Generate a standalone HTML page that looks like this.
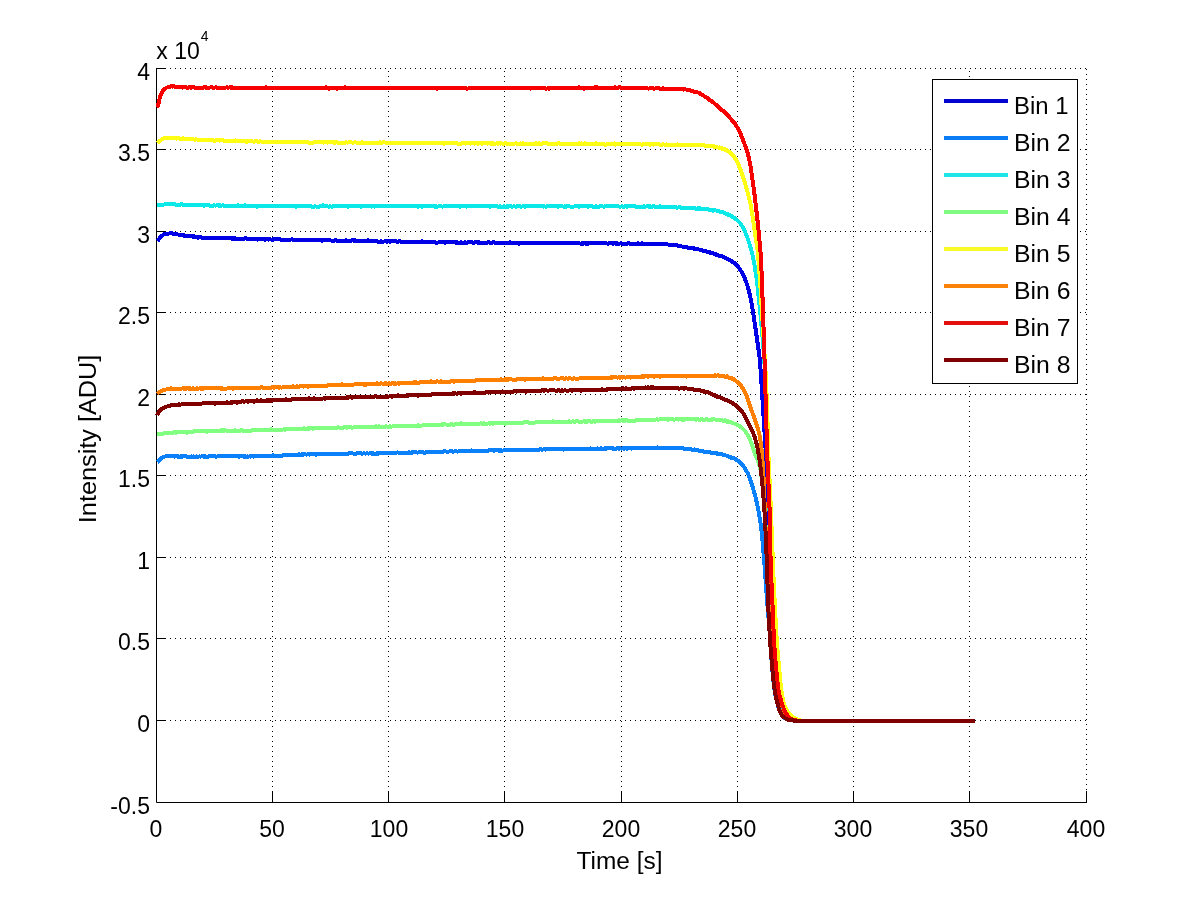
<!DOCTYPE html>
<html lang="en"><head><meta charset="utf-8"><title>Intensity vs Time</title>
<style>html,body{margin:0;padding:0;background:#fff}svg{display:block}text{font-family:"Liberation Sans",sans-serif;fill:#000}</style></head><body>
<svg width="1200" height="901" viewBox="0 0 1200 901">
<rect width="1200" height="901" fill="#fff"/>
<path d="M272.5 802V68M388.5 802V68M504.5 802V68M621.5 802V68M737.5 802V68M853.5 802V68M969.5 802V68" stroke="#000" stroke-width="1" stroke-dasharray="1 4" fill="none"/>
<path d="M1086.5 69V802" stroke="#000" stroke-width="1" stroke-dasharray="1 4" fill="none"/>
<path d="M160 68.5H1087M160 149.5H1087M160 231.5H1087M160 312.5H1087M160 394.5H1087M160 475.5H1087M160 557.5H1087M160 638.5H1087M160 720.5H1087" stroke="#000" stroke-width="1" stroke-dasharray="1 4" fill="none"/>
<path d="M156.5 68V802.5H1087" stroke="#000" stroke-width="1" fill="none"/>
<path d="M272.5 802v-11M388.5 802v-11M504.5 802v-11M621.5 802v-11M737.5 802v-11M853.5 802v-11M969.5 802v-11M1086.5 802v-11M157 68.5h9M157 149.5h9M157 231.5h9M157 312.5h9M157 394.5h9M157 475.5h9M157 557.5h9M157 638.5h9M157 720.5h9" stroke="#000" stroke-width="1" fill="none"/>
<path d="M157.2,241.2 157.9,240.5 158.4,239.8 158.5,239.7 159.1,238.9 159.7,238.0 160.3,237.3 161.0,236.7 161.0,236.5 161.7,235.9 162.5,235.3 163.4,234.7 164.3,234.2 165.2,233.8 165.5,233.8 166.2,233.8 167.1,233.6 168.1,233.6 169.2,233.5 170.2,233.3 171.2,233.2 172.2,233.6 172.2,233.4 173.2,233.9 174.2,234.0 175.2,234.0 176.2,233.6 177.1,234.2 178.1,234.6 179.1,234.7 180.1,234.5 181.1,234.9 182.1,235.0 183.0,235.2 183.1,235.6 184.0,235.4 185.0,235.6 186.0,235.9 187.0,235.8 188.0,236.0 189.0,236.2 190.0,236.2 191.0,236.0 192.0,236.4 193.0,236.8 194.0,236.3 195.0,237.0 196.0,236.8 197.0,236.8 198.0,237.6 199.0,237.5 200.0,237.1 201.0,237.4 202.0,237.6 203.0,237.6 204.0,237.9 204.9,237.9 205.5,238.0 205.9,238.1 206.9,237.7 207.9,237.9 208.9,237.9 209.9,238.0 210.9,237.7 211.9,237.9 212.9,238.0 213.9,238.2 214.9,238.3 215.9,237.7 216.9,237.9 217.9,238.2 218.9,237.5 219.9,237.9 220.9,237.9 221.9,238.1 222.9,238.0 223.9,237.9 224.9,237.9 225.9,238.1 226.9,238.5 227.9,238.1 228.9,238.2 229.9,238.5 230.9,238.4 231.9,238.6 232.9,238.4 233.9,238.6 234.9,238.4 235.9,238.8 236.9,238.8 237.9,238.6 238.8,238.7 238.9,238.5 239.9,238.8 240.9,238.6 241.9,238.8 242.9,238.5 243.9,238.8 244.9,238.3 245.9,238.4 246.9,238.8 247.9,238.6 248.9,238.8 249.9,239.4 250.9,238.7 251.9,238.7 252.9,239.1 253.9,239.1 254.9,239.0 255.9,239.1 256.9,239.5 257.9,239.5 258.9,239.0 259.9,239.2 260.9,239.4 261.9,238.9 262.9,239.4 263.9,239.1 264.9,239.6 265.9,239.4 266.9,239.4 267.9,239.4 268.9,239.6 269.9,239.2 270.9,239.5 271.9,239.7 272.9,239.0 273.9,239.6 274.9,239.0 275.9,239.5 276.9,239.1 277.9,239.4 278.9,239.4 279.9,239.1 280.9,239.8 281.9,240.0 282.9,239.7 283.9,239.6 284.9,239.8 285.9,239.6 286.9,240.0 287.9,239.5 288.9,239.6 289.9,239.5 290.9,239.5 291.9,239.4 292.9,240.0 293.9,239.6 294.9,239.9 295.9,239.7 296.9,239.8 297.9,239.9 298.9,239.7 299.9,240.0 300.0,239.8 300.9,240.0 301.9,239.8 302.9,240.0 303.9,240.5 304.9,239.9 305.9,239.8 306.9,240.1 307.9,240.3 308.9,239.6 309.9,239.9 310.9,239.7 311.9,239.5 312.9,240.1 313.9,239.9 314.9,239.9 315.9,239.8 316.9,240.1 317.9,240.0 318.9,240.2 319.9,240.0 320.9,240.0 321.9,240.6 322.9,240.3 323.9,240.5 324.9,240.4 325.9,240.4 326.9,240.4 327.9,240.5 328.9,240.4 329.9,240.3 330.9,240.5 331.9,240.6 332.9,240.5 333.9,240.6 334.9,240.3 335.9,240.1 336.9,240.7 337.9,240.8 338.9,240.6 339.9,240.8 340.9,240.8 341.9,240.8 342.9,240.9 343.9,240.5 344.9,241.0 345.9,240.3 346.9,240.7 347.9,240.6 348.9,240.7 349.9,241.0 350.9,241.0 351.9,240.4 352.9,240.3 353.9,240.8 354.9,240.4 355.9,240.7 356.9,241.0 357.9,240.6 358.9,240.6 359.9,241.1 360.9,241.0 361.9,240.9 362.9,241.0 363.9,240.8 364.9,240.6 365.9,240.9 366.9,240.6 367.9,240.4 368.9,240.9 369.9,240.8 370.9,241.0 371.9,240.8 372.9,241.0 373.9,241.0 374.9,241.1 375.9,241.3 376.9,241.2 377.9,241.6 378.9,241.6 379.9,242.0 380.9,241.2 381.9,241.7 382.9,241.5 383.9,241.5 384.9,241.2 385.9,241.4 386.9,241.6 387.9,241.4 388.9,241.4 389.0,241.2 389.9,241.6 390.9,241.3 391.9,240.7 392.9,241.2 393.9,240.9 394.9,240.7 395.9,241.4 396.9,241.8 397.9,241.6 398.9,241.3 399.9,241.3 400.9,241.9 401.9,241.7 402.9,241.6 403.9,241.6 404.9,241.7 405.9,241.9 406.9,241.9 407.9,241.7 408.9,241.5 409.9,242.0 410.9,241.6 411.9,242.0 412.9,241.5 413.9,241.7 414.9,241.8 415.9,241.5 416.9,242.3 417.9,242.2 418.9,241.7 419.9,242.0 420.9,241.8 421.9,241.2 422.9,241.8 423.9,241.7 424.9,241.8 425.9,241.5 426.9,241.7 427.9,241.8 428.9,242.1 429.9,242.1 430.9,242.1 431.9,242.5 432.9,242.0 433.9,242.0 434.9,241.8 435.9,242.7 436.9,242.5 437.9,242.5 438.9,242.4 439.9,242.3 440.9,242.4 441.9,242.3 442.9,242.2 443.9,242.3 444.9,242.7 445.9,242.4 446.9,242.3 447.9,242.2 448.9,242.0 449.9,242.5 450.9,242.4 451.9,242.3 452.9,242.2 453.9,242.1 454.9,242.3 455.9,242.6 456.9,242.4 457.9,242.6 458.9,242.6 459.9,242.7 460.9,242.4 461.9,242.7 462.9,242.5 463.9,242.9 464.9,242.4 465.9,242.6 466.9,242.8 467.9,242.4 468.9,242.2 469.9,242.4 470.9,242.4 471.9,242.2 472.9,242.5 473.9,243.0 474.9,242.4 475.9,242.4 476.9,242.3 477.9,242.7 478.9,242.3 479.0,242.4 479.9,243.0 480.9,242.5 481.9,242.9 482.9,243.2 483.9,242.8 484.9,242.8 485.9,243.1 486.9,242.6 487.9,242.4 488.9,242.2 489.9,242.6 490.9,242.9 491.9,242.7 492.9,242.4 493.9,242.4 494.9,242.6 495.9,242.9 496.9,242.8 497.9,242.9 498.9,242.9 499.9,242.8 500.9,242.9 501.9,243.0 502.9,242.9 503.9,243.0 504.9,243.3 505.9,243.0 506.9,242.9 507.9,242.5 508.9,243.0 509.9,242.4 510.9,242.6 511.9,243.1 512.9,243.1 513.9,242.8 514.9,242.5 515.9,242.8 516.9,242.8 517.9,243.3 518.9,243.7 519.9,243.2 520.9,243.0 521.9,243.0 522.9,243.2 523.9,243.2 524.9,242.9 525.9,243.2 526.9,242.7 527.9,243.3 528.9,243.2 529.9,243.2 530.9,242.8 531.9,243.1 532.9,242.9 533.9,242.8 534.9,242.8 535.9,242.7 536.9,242.6 537.9,243.2 538.9,242.9 539.9,243.0 540.9,243.2 541.9,242.6 542.9,242.8 543.9,243.2 544.9,243.3 545.9,243.1 546.9,243.4 547.9,243.2 548.9,242.9 549.9,242.9 550.9,243.2 551.9,243.2 552.9,242.5 553.9,243.3 554.9,243.0 555.9,243.2 556.9,242.8 557.9,242.9 558.9,242.7 559.9,243.5 560.9,242.9 561.9,243.3 562.9,242.7 563.9,243.1 564.9,242.6 565.9,243.0 566.9,243.3 567.9,242.7 568.9,243.4 569.9,243.2 570.9,242.9 571.9,243.1 572.9,243.0 573.9,243.1 574.9,243.1 575.9,243.1 576.9,243.3 577.9,243.1 578.9,243.2 579.9,243.5 580.9,243.7 581.9,243.3 582.9,243.6 583.9,243.4 584.9,243.3 585.9,243.7 586.9,243.4 587.9,243.8 588.9,243.2 589.9,243.5 590.9,243.3 591.9,243.1 592.9,243.4 593.9,243.3 594.9,243.5 595.9,243.3 596.9,243.0 597.9,243.2 598.9,243.2 599.9,243.5 600.9,243.1 601.9,243.3 602.9,242.9 603.9,243.5 604.9,243.1 605.9,243.0 606.9,243.5 607.9,243.8 608.9,243.1 609.9,243.3 610.9,243.3 611.9,243.3 612.9,243.6 613.9,243.4 614.9,243.4 615.9,243.6 616.9,243.4 617.9,243.8 618.9,243.5 619.9,243.5 620.9,243.3 621.9,244.0 622.0,243.5 622.9,243.7 623.9,243.6 624.9,243.7 625.9,243.6 626.9,244.0 627.9,243.4 628.9,243.4 629.9,243.6 630.9,243.5 631.9,244.0 632.9,244.1 633.9,243.6 634.9,243.5 635.9,243.8 636.9,244.2 637.9,243.1 638.9,243.8 639.9,243.5 640.9,244.0 641.9,243.4 642.9,243.7 643.9,243.5 644.9,243.5 645.9,244.1 646.9,244.1 647.9,243.8 648.9,243.8 649.9,243.6 650.0,243.9 650.9,244.0 651.9,243.9 652.9,243.9 653.9,243.7 654.9,243.9 655.9,243.9 656.9,244.2 657.9,244.3 658.9,243.9 659.9,243.7 660.9,244.0 661.9,243.9 662.9,243.9 663.9,244.1 664.9,243.9 665.9,244.5 666.9,244.4 667.9,244.5 668.9,244.6 669.9,244.5 670.9,244.6 671.9,244.8 672.2,244.9 672.9,245.2 673.9,245.2 674.8,245.0 675.8,245.5 676.8,245.2 677.8,245.6 678.8,245.9 679.8,245.6 680.8,246.2 681.8,246.5 682.8,246.6 683.7,246.7 684.7,246.9 685.7,246.9 686.7,247.4 687.7,247.5 688.7,247.8 689.6,247.6 690.6,248.1 691.6,248.3 692.6,248.4 693.6,248.5 694.4,248.9 694.5,248.3 695.5,248.9 696.5,249.1 697.5,249.4 698.5,249.5 699.4,249.5 700.4,249.9 701.4,250.3 702.4,250.5 703.3,250.6 704.3,250.5 705.3,251.2 706.3,251.5 707.2,251.8 708.2,251.9 709.2,251.9 710.1,252.7 711.1,252.7 712.1,252.6 713.0,253.5 714.0,253.5 714.9,253.8 715.9,254.2 716.6,254.9 716.8,254.6 717.8,255.1 718.7,255.8 719.7,256.0 720.6,256.0 721.6,256.3 722.6,256.4 723.5,256.9 724.4,257.5 725.4,257.9 726.3,258.2 727.2,258.9 728.1,259.0 728.9,259.6 729.8,260.1 730.0,260.2 730.6,260.6 731.4,261.1 732.2,261.5 733.1,262.3 733.9,262.6 734.7,263.0 735.4,264.1 737.6,266.2 739.4,268.5 741.0,271.0 743.0,274.5 744.7,278.2 746.5,282.9 748.3,288.6 749.8,294.4 751.2,301.3 754.0,318.1 758.3,347.8 759.6,357.7 760.5,368.6 762.7,402.6 765.0,440.5 766.3,459.4 767.3,480.4 768.5,514.4 769.5,554.4 770.3,592.4 771.0,613.4 771.9,633.3 772.7,646.3 774.7,668.2 775.9,682.2 776.6,689.1 777.6,695.1 778.8,701.0 780.0,705.8 781.3,709.8 782.5,712.6 784.0,715.0 785.3,716.4 786.9,717.8 788.6,719.0 790.4,719.6 793.3,720.3 796.4,720.6 837.1,720.6 878.0,720.6 918.0,720.6 958.2,720.6 975.0,720.6" stroke="#0000e6" stroke-width="4" fill="none" stroke-linejoin="round" stroke-linecap="butt" shape-rendering="crispEdges"/>
<path d="M157.2,462.0 158.0,461.4 158.4,461.0 158.7,460.6 159.5,459.9 160.2,459.1 160.9,458.5 161.7,457.9 162.2,457.6 162.5,457.5 163.4,457.2 164.3,456.7 165.3,456.5 166.3,456.2 167.3,456.1 167.7,456.1 168.3,456.0 169.3,456.1 170.3,456.1 171.3,456.5 172.3,456.4 173.3,456.1 174.3,456.6 175.3,456.3 176.3,456.4 177.3,456.6 178.3,456.3 179.3,456.9 180.3,456.4 181.3,456.1 182.3,456.7 183.3,456.2 184.3,456.2 185.3,455.6 186.3,456.5 187.3,456.6 188.3,456.6 189.3,456.7 190.3,456.8 191.3,456.5 192.3,456.8 193.3,456.4 194.3,456.5 194.4,456.9 195.3,456.7 196.3,456.4 197.3,456.7 198.3,456.7 199.3,456.4 200.3,456.6 201.3,456.5 202.3,456.2 203.3,456.3 204.3,457.1 205.3,456.3 206.3,456.7 207.3,456.7 208.3,456.7 209.3,456.3 210.3,456.5 211.3,456.4 212.3,456.5 213.3,456.1 214.3,456.0 215.3,456.5 216.3,456.6 217.3,456.4 218.3,456.2 219.3,456.4 220.3,456.3 221.3,456.5 222.3,456.1 223.3,456.2 224.3,456.1 225.3,455.9 226.3,456.2 227.3,456.2 228.3,456.1 229.3,456.3 230.3,455.8 231.3,456.2 232.3,456.3 233.3,456.2 234.3,456.4 235.3,455.8 236.3,455.7 237.3,456.2 238.3,456.3 238.8,456.7 239.3,456.4 240.3,456.1 241.3,456.5 242.3,456.0 243.3,455.9 244.3,456.9 245.3,456.4 246.3,456.6 247.3,456.4 248.3,456.7 249.3,456.4 250.3,456.6 251.3,456.1 252.3,456.0 253.3,456.6 254.3,456.5 255.3,456.2 256.3,456.0 257.3,456.0 258.3,455.8 259.3,456.3 260.3,456.0 261.3,456.0 262.3,456.0 263.3,456.1 264.3,456.0 265.3,456.1 266.3,455.5 267.3,455.9 268.3,456.3 269.3,455.7 270.3,455.8 271.3,455.9 272.0,455.9 272.3,455.8 273.3,455.3 274.3,456.0 275.3,455.5 276.3,455.5 277.3,455.9 278.3,455.6 279.3,455.8 280.3,456.3 281.3,455.7 282.3,455.7 283.3,455.2 284.3,455.3 285.3,455.0 286.3,454.9 287.3,454.9 288.3,454.9 289.3,455.0 290.3,454.8 291.3,454.5 292.3,454.5 293.3,455.0 294.3,454.9 295.3,455.2 296.3,455.1 297.3,454.7 298.3,454.9 299.3,454.3 300.0,455.2 300.3,454.9 301.3,454.5 302.3,454.2 303.3,454.7 304.3,454.1 305.3,454.3 306.3,454.6 307.3,454.5 308.3,454.3 309.3,454.6 310.3,454.1 311.3,454.4 312.3,454.1 313.3,454.0 314.3,454.4 315.3,454.0 316.3,454.7 317.3,454.0 318.3,454.5 319.3,453.9 320.3,454.2 321.3,453.8 322.3,453.8 323.3,454.2 324.3,454.3 325.3,453.8 326.3,454.4 327.3,453.9 328.3,454.2 329.3,454.3 330.3,454.3 331.3,453.7 332.3,454.4 333.3,454.1 334.3,453.9 335.3,453.8 336.3,453.7 337.3,453.7 338.3,454.1 339.3,453.7 340.3,453.6 341.3,453.8 342.3,454.2 343.3,453.8 344.3,453.7 345.3,454.2 346.3,453.8 347.3,453.7 348.3,453.6 349.3,453.3 350.3,453.4 351.3,453.5 352.3,453.4 353.3,453.5 354.3,453.6 355.3,453.6 356.3,453.6 357.3,453.3 358.3,453.0 359.3,453.4 360.3,453.3 361.3,453.5 362.3,453.6 363.3,453.4 364.3,453.3 365.3,453.6 366.3,453.5 367.3,453.3 368.3,453.6 369.3,453.5 370.3,453.3 371.3,453.5 372.3,453.9 373.3,453.3 374.3,453.7 375.3,453.8 376.3,453.8 377.3,453.2 378.3,453.7 379.3,453.1 380.3,453.0 381.3,452.9 382.3,453.0 383.3,452.9 384.3,452.8 385.3,453.2 386.3,452.7 387.3,452.7 388.3,453.2 389.3,453.2 389.7,453.4 390.3,453.0 391.3,453.4 392.3,453.2 393.3,453.4 394.3,452.6 395.3,452.9 396.3,452.8 397.3,452.4 398.3,452.6 399.3,453.1 400.3,452.7 401.3,452.7 402.3,453.1 403.3,453.1 404.3,453.1 405.3,452.6 406.3,452.8 407.3,453.0 408.3,452.5 409.3,452.4 410.3,452.7 411.3,453.0 412.3,452.3 413.3,452.0 414.3,452.2 415.3,452.3 416.3,452.4 417.3,452.5 418.3,452.5 419.3,452.2 420.3,452.4 421.3,452.1 422.3,452.2 423.3,452.1 424.3,452.9 425.3,452.5 426.3,452.0 427.3,451.9 428.3,452.0 429.3,451.7 430.3,451.9 431.3,451.9 432.3,452.2 433.3,451.8 434.3,451.6 435.3,451.6 436.3,451.6 437.3,451.9 438.3,451.7 439.3,451.9 440.3,451.6 441.3,451.9 442.3,451.7 443.3,451.6 444.3,451.1 445.3,451.2 446.3,451.6 447.3,451.8 448.3,451.5 449.3,451.5 450.3,451.4 451.3,451.5 452.3,451.3 453.3,451.7 454.3,451.5 455.3,451.4 456.3,451.4 457.3,451.5 458.3,451.5 459.3,451.0 460.3,451.5 461.3,451.1 462.3,451.1 463.3,451.5 464.3,451.3 465.3,451.0 466.3,451.2 467.3,450.7 468.3,450.8 469.3,450.5 470.3,451.4 471.3,450.5 472.3,451.1 473.3,450.7 474.3,450.7 475.3,450.8 476.3,451.0 477.3,451.1 478.3,451.2 479.3,450.9 480.3,451.0 481.3,450.7 482.3,451.0 483.3,450.9 484.3,450.5 485.3,450.6 486.3,450.6 487.3,450.6 488.3,450.6 489.3,450.3 490.3,450.2 491.3,450.4 492.3,449.8 493.3,450.2 494.3,450.7 495.3,449.6 496.3,450.1 497.3,450.5 498.3,450.0 499.3,451.0 500.3,449.8 501.3,450.7 502.3,450.7 503.3,450.5 504.3,450.2 505.3,450.3 505.3,450.1 506.3,450.4 507.3,449.9 508.3,450.1 509.3,450.4 510.3,449.9 511.3,450.1 512.3,450.2 513.3,449.8 514.3,450.4 515.3,450.2 516.3,449.6 517.3,449.9 518.3,449.8 519.3,449.8 520.3,449.9 521.3,449.8 522.3,450.2 523.3,449.7 524.3,450.1 525.3,449.9 526.3,450.1 527.3,449.8 528.3,449.8 529.3,449.5 530.3,449.9 531.3,449.9 532.3,450.2 533.3,450.0 534.3,449.7 535.3,449.6 536.3,449.7 537.3,449.5 538.3,449.9 539.3,449.7 540.3,449.3 541.3,449.3 542.3,449.7 543.3,449.5 544.3,449.3 545.2,449.6 546.2,449.3 547.2,449.2 548.2,449.1 549.2,448.7 550.2,449.4 551.2,448.9 552.2,449.1 553.2,449.1 554.2,449.5 555.2,449.3 556.2,449.3 557.2,448.9 558.2,449.3 559.2,448.9 560.2,449.3 561.2,449.3 562.2,449.1 563.2,449.6 564.2,449.2 565.2,449.3 566.2,449.2 567.2,449.1 568.2,449.3 569.2,449.3 570.2,448.8 571.2,449.3 572.2,449.1 573.2,449.3 574.2,449.1 575.2,448.7 576.2,448.7 577.2,449.4 578.2,449.0 579.2,448.7 580.2,449.1 581.2,449.0 582.2,448.5 583.2,448.5 584.2,448.7 585.2,449.1 586.2,449.0 587.2,448.9 588.2,449.0 589.2,449.0 590.2,448.4 591.2,448.7 592.2,448.6 593.2,448.6 594.2,448.8 595.2,448.9 596.2,448.8 597.2,448.4 598.2,448.6 599.2,449.2 600.2,448.5 601.2,448.3 602.2,448.7 603.2,448.6 604.2,448.6 605.2,448.3 606.2,448.7 607.2,448.2 608.2,448.1 609.2,448.3 610.2,448.3 611.2,448.4 612.2,448.6 613.2,448.4 614.2,448.7 615.2,448.5 616.2,448.7 617.2,448.2 618.2,448.1 619.2,448.7 620.2,448.3 621.2,448.5 622.2,448.5 622.5,448.4 623.2,448.4 624.2,448.8 625.2,447.8 626.2,448.6 627.2,448.9 628.2,448.2 629.2,448.2 630.2,448.4 631.2,448.6 632.2,448.0 633.2,448.3 634.2,448.3 635.2,448.4 636.2,448.3 637.2,448.4 638.3,448.1 639.3,448.2 640.3,448.0 641.3,448.0 642.3,448.1 643.3,448.0 644.3,447.8 645.3,448.4 646.3,448.0 647.3,447.7 648.3,448.2 649.3,447.7 650.3,448.0 651.3,447.9 652.3,448.0 653.3,448.0 654.3,447.9 655.3,448.0 656.3,448.5 657.3,447.5 658.3,448.1 659.3,448.1 660.3,447.7 661.3,447.7 662.3,448.4 663.3,447.8 664.3,448.3 665.3,448.0 666.3,447.8 667.3,447.8 668.2,447.9 669.2,448.0 670.2,447.8 671.2,447.8 672.2,447.8 672.2,448.0 673.2,447.9 674.2,447.6 675.2,447.7 676.2,447.9 677.2,447.7 678.2,447.9 679.2,447.8 680.2,448.2 681.2,448.3 682.2,448.4 683.2,448.3 684.2,448.9 685.2,448.6 686.2,449.4 687.2,449.0 688.2,449.1 689.2,448.9 690.2,448.6 691.1,449.4 692.1,449.7 693.1,450.2 694.1,449.5 694.4,450.4 695.1,450.0 696.1,450.3 697.1,449.7 698.1,450.5 699.1,450.6 700.1,450.9 701.1,451.0 702.1,450.8 703.1,451.4 704.1,451.6 705.1,451.7 706.0,451.9 707.0,452.0 708.0,451.9 709.0,451.8 710.0,452.0 711.0,452.9 712.0,452.8 713.0,452.8 713.9,452.8 714.9,453.2 715.9,453.4 716.6,453.4 716.9,453.3 717.8,454.1 718.8,453.7 719.8,453.8 720.8,453.8 721.8,454.2 722.8,454.8 723.7,455.0 724.7,455.0 725.7,455.4 726.6,455.7 727.6,455.9 728.6,456.7 729.5,456.8 730.4,457.6 731.3,457.3 732.0,457.8 732.2,458.0 733.1,458.0 734.1,458.1 735.0,458.6 735.9,459.6 738.5,461.2 741.0,463.3 742.7,465.2 744.5,467.6 746.6,471.2 748.4,474.7 750.2,479.4 752.4,486.1 754.9,494.7 756.8,502.5 758.6,511.3 760.1,520.2 761.3,529.1 762.9,545.0 764.7,567.0 767.1,600.9 770.0,636.8 771.7,662.7 772.9,676.7 773.9,685.6 774.7,691.6 775.9,697.5 777.6,704.2 779.1,709.2 780.2,712.2 781.5,714.7 782.6,716.1 784.1,717.5 785.8,718.7 787.7,719.6 790.6,720.2 793.6,720.6 834.5,720.6 875.4,720.6 915.4,720.6 955.5,720.6 975.0,720.6" stroke="#0a80fa" stroke-width="4" fill="none" stroke-linejoin="round" stroke-linecap="butt" shape-rendering="crispEdges"/>
<path d="M157.2,205.5 158.2,205.4 158.4,205.4 159.2,205.4 160.2,205.0 161.1,204.9 162.1,204.7 163.1,204.7 164.1,204.5 165.1,204.3 165.5,204.3 166.1,204.4 167.1,204.4 168.1,204.2 169.1,204.3 170.1,204.1 171.1,204.3 172.1,204.1 173.1,204.2 174.1,204.3 175.1,204.3 176.1,204.7 177.1,204.8 178.1,204.7 179.1,204.5 180.1,204.9 181.1,204.4 182.1,204.4 183.1,205.2 183.3,205.1 184.1,205.2 185.1,205.0 186.1,204.7 187.1,204.9 188.1,205.2 189.1,204.8 190.1,204.7 191.1,204.5 192.1,204.6 193.1,205.1 194.1,205.0 195.1,204.6 196.1,204.7 197.1,204.8 198.1,205.2 199.1,204.8 200.1,205.0 201.1,204.7 202.1,204.9 203.1,205.4 204.1,205.6 205.1,205.1 206.1,205.1 207.1,205.5 208.1,205.3 209.1,205.3 210.1,205.6 211.1,205.5 212.1,205.7 213.1,205.7 214.1,205.4 215.1,205.5 216.1,205.5 217.1,205.2 218.1,205.3 219.1,205.7 220.1,205.1 221.1,205.7 222.1,205.5 223.1,205.4 224.1,205.7 225.1,205.7 226.1,205.9 227.1,205.6 228.1,205.7 229.1,205.7 230.1,206.3 231.1,206.0 232.1,205.6 233.1,205.7 234.1,205.6 235.1,205.8 236.1,205.8 237.1,206.4 238.1,205.4 238.8,205.9 239.1,205.9 240.1,205.6 241.1,205.7 242.1,205.6 243.1,205.8 244.1,206.0 245.1,205.4 246.1,206.1 247.1,205.7 248.1,206.2 249.1,206.1 250.1,206.2 251.1,206.2 252.1,206.2 253.1,205.9 254.1,205.9 255.1,206.2 256.1,206.3 257.1,206.7 258.1,205.6 259.1,206.0 260.1,206.2 261.1,205.7 262.1,206.0 263.1,206.4 264.1,206.3 265.1,205.8 266.1,206.3 267.1,206.3 268.1,206.3 269.1,206.2 270.1,206.2 271.1,206.0 272.1,206.1 273.1,206.3 274.1,206.2 275.1,206.5 276.1,206.1 277.1,205.5 278.1,206.0 279.1,206.1 280.1,206.1 281.1,206.1 282.1,205.8 283.1,206.4 284.1,206.0 285.1,206.3 286.1,206.1 287.1,205.8 288.1,206.4 289.1,205.6 290.1,206.0 291.1,206.3 292.1,206.0 293.1,206.3 294.1,206.2 295.1,206.1 296.1,206.8 297.1,206.3 298.1,206.3 299.1,206.0 300.0,206.0 300.1,206.3 301.1,206.2 302.1,206.1 303.1,205.9 304.1,206.2 305.1,205.5 306.1,205.9 307.1,206.1 308.1,206.0 309.1,206.3 310.1,206.3 311.1,206.2 312.1,206.9 313.1,206.6 314.1,206.8 315.1,206.4 316.1,206.5 317.1,206.5 318.1,206.5 319.1,206.8 320.1,206.2 321.1,206.2 322.1,206.2 323.1,205.4 324.1,206.0 325.1,206.3 326.1,206.5 327.1,206.2 328.1,206.6 329.1,206.6 330.1,206.2 331.1,206.5 332.1,206.7 333.1,206.3 334.1,206.0 335.1,206.5 336.1,206.1 337.1,206.0 338.1,206.2 339.1,206.0 340.1,206.4 341.1,206.3 342.1,206.4 343.1,206.1 344.1,205.9 345.1,206.0 346.1,206.2 347.1,205.8 348.1,206.6 349.1,205.8 350.1,205.8 351.1,206.2 352.1,206.2 353.1,206.0 354.1,206.0 355.1,206.2 356.1,206.4 357.1,206.4 358.1,206.3 359.1,206.4 360.1,206.5 361.1,206.6 362.1,205.7 363.1,206.2 364.1,206.3 365.1,206.3 366.1,206.3 367.1,206.5 368.1,206.4 369.1,206.2 370.1,206.2 371.1,206.6 372.1,206.1 373.1,206.2 374.1,206.6 375.1,206.2 376.1,205.7 377.1,206.2 378.1,206.1 379.1,206.1 380.1,206.4 381.1,206.4 382.1,206.2 383.1,206.4 384.1,206.3 385.1,206.2 386.1,206.3 387.1,206.3 388.1,206.2 389.1,206.2 390.1,206.3 391.1,206.0 392.1,205.8 393.1,206.4 394.1,206.1 395.1,206.1 396.1,205.9 397.1,205.9 398.1,205.9 399.1,205.9 400.1,205.8 401.1,206.3 402.1,206.0 403.1,206.4 404.1,205.8 405.1,206.1 406.1,206.5 407.1,206.2 408.1,206.2 409.1,206.3 410.1,206.0 411.1,206.2 412.1,205.6 413.1,206.1 414.1,206.0 415.1,206.4 416.1,206.5 417.1,206.2 418.1,206.8 419.1,206.2 420.1,206.0 421.1,206.0 422.1,206.8 423.1,206.4 424.1,206.2 425.1,206.1 426.1,205.9 427.1,206.4 428.1,206.1 429.1,206.5 430.1,206.1 431.1,205.7 432.1,206.5 433.1,206.2 434.1,206.3 435.1,206.8 436.1,206.4 437.1,206.8 438.1,206.5 439.1,206.3 440.1,206.5 441.1,206.2 442.1,206.6 443.1,206.5 444.1,206.3 445.1,206.4 446.1,206.3 447.1,206.2 448.1,206.4 449.1,206.2 450.1,206.3 451.1,206.0 452.1,206.3 453.1,206.3 454.1,206.0 455.1,206.2 456.1,206.0 457.1,206.3 458.1,205.9 459.1,206.3 460.1,206.6 461.1,206.2 462.1,205.9 463.1,206.4 464.1,206.5 465.1,206.2 466.1,206.6 467.1,206.4 468.1,206.4 469.1,206.2 470.1,206.1 471.1,206.3 472.1,206.3 473.1,206.4 474.1,206.5 475.1,206.3 476.1,206.3 477.1,206.5 478.1,206.0 479.1,206.3 480.1,206.2 481.1,206.3 482.1,206.3 483.1,206.3 484.1,206.2 485.1,206.5 486.1,206.4 487.1,206.0 488.1,206.3 489.1,206.0 490.1,206.7 491.1,206.1 492.1,206.1 493.1,206.2 494.1,206.1 495.1,206.1 496.1,206.5 497.1,206.3 498.1,206.6 499.1,206.6 500.1,206.2 501.1,206.8 502.1,206.6 503.1,206.7 504.1,206.4 505.1,206.8 506.1,206.6 507.1,206.3 508.1,206.9 509.1,206.4 510.1,206.3 511.1,206.4 512.1,206.6 513.1,206.5 514.1,206.4 515.1,206.5 516.1,206.6 517.1,206.0 518.1,206.3 519.1,206.2 520.1,206.3 521.1,206.7 522.1,206.5 523.1,206.0 524.1,206.3 525.1,206.7 526.1,206.2 527.1,206.2 528.1,206.3 529.1,205.8 530.1,206.4 531.1,206.4 532.1,206.4 533.1,205.9 534.1,206.0 535.1,206.1 536.1,206.3 537.1,206.1 538.1,206.2 539.1,206.5 540.1,206.4 541.1,206.0 542.1,206.1 543.1,206.6 544.1,206.2 545.1,206.5 546.1,206.6 547.1,206.1 548.1,206.3 549.1,206.3 550.1,206.1 551.1,206.0 552.1,206.2 553.1,206.5 554.1,206.3 555.1,206.3 556.1,206.2 557.1,205.9 558.1,206.7 559.1,205.8 560.1,206.2 561.1,206.5 562.1,206.1 563.1,206.6 564.1,206.8 565.1,206.3 566.1,206.6 567.1,206.2 568.1,206.5 569.1,206.4 570.1,206.5 571.1,206.7 572.1,206.5 573.1,206.7 574.1,206.5 575.1,206.0 576.1,206.3 577.1,206.4 578.1,205.9 579.1,206.6 580.1,206.2 581.1,206.3 582.1,206.0 583.1,206.3 584.1,206.4 585.1,206.3 586.1,206.4 587.1,206.0 588.1,206.7 589.1,206.2 590.1,206.0 591.1,206.4 592.1,206.4 593.1,206.8 594.1,206.5 595.1,206.7 596.1,206.4 597.1,207.2 598.1,206.7 599.1,207.0 600.1,206.2 601.1,206.5 602.1,206.2 603.1,206.6 604.1,206.6 605.1,206.1 606.1,206.3 607.1,206.2 608.1,206.1 609.1,206.3 610.1,206.3 611.1,206.2 612.1,206.4 613.1,206.5 614.1,206.0 615.1,206.2 616.1,206.4 617.1,206.3 618.1,206.3 619.1,206.5 620.1,206.5 621.1,206.5 622.1,206.4 623.1,206.8 624.1,206.7 625.1,206.3 626.1,206.3 627.1,206.6 628.1,206.2 629.1,206.5 630.1,206.3 631.1,206.2 632.1,206.4 633.1,206.2 634.1,206.4 635.1,206.1 636.1,207.1 637.1,206.9 638.1,206.9 639.1,206.8 640.1,207.0 641.1,207.0 642.1,206.9 643.1,206.9 644.1,206.4 645.1,206.7 646.1,206.5 647.1,206.3 648.1,206.3 649.1,206.6 650.0,206.7 650.1,206.2 651.1,206.9 652.1,206.9 653.1,206.4 654.1,206.4 655.1,206.6 656.1,206.8 657.1,206.6 658.1,206.5 659.1,206.8 660.1,206.2 661.1,206.8 662.1,207.0 663.1,206.8 664.1,207.0 665.1,206.9 666.1,206.9 667.1,206.8 668.1,206.6 669.1,206.9 670.1,207.0 671.1,207.3 672.1,207.4 673.1,207.1 674.1,206.9 675.1,207.0 676.1,207.2 677.1,207.7 678.1,207.5 679.1,207.4 680.1,207.2 681.1,207.7 682.1,207.5 683.1,207.5 684.1,207.6 685.1,208.0 686.1,207.6 687.1,208.1 688.1,208.0 689.1,207.9 690.1,208.1 691.1,208.0 692.1,207.9 693.1,208.1 694.0,208.1 694.4,208.4 695.0,208.3 696.0,208.6 697.0,208.7 698.0,207.9 699.0,208.7 700.0,208.3 701.0,208.9 702.0,208.7 703.0,209.1 704.1,209.4 705.1,208.8 706.1,209.3 707.1,209.5 708.1,209.2 709.1,209.9 710.1,209.9 711.0,209.9 712.0,210.0 713.0,211.1 714.0,210.4 715.0,210.2 716.0,210.5 716.9,210.9 717.9,211.0 718.9,211.4 719.8,211.4 720.8,212.0 721.0,211.8 721.8,211.8 722.7,212.2 723.7,212.6 724.6,213.2 725.6,213.5 726.5,213.7 727.5,214.1 728.4,214.6 729.3,215.5 730.2,215.4 731.1,216.0 731.9,216.6 732.0,216.2 732.8,216.9 733.6,217.3 734.4,217.8 735.3,218.7 737.6,220.6 739.8,222.8 741.5,225.1 743.0,227.6 744.8,231.3 747.4,237.8 749.4,243.5 751.1,249.2 752.6,255.1 754.3,263.9 755.9,273.8 757.4,284.7 760.0,309.5 761.7,327.5 763.7,351.4 764.6,365.4 765.3,381.3 766.4,421.3 767.7,461.3 769.2,499.3 769.8,520.3 770.3,549.3 771.0,571.2 772.7,611.2 773.7,634.2 774.4,647.2 776.4,671.1 777.3,682.1 778.1,689.0 779.0,693.9 780.3,699.8 782.0,705.6 783.4,709.4 784.6,712.2 786.1,714.7 787.4,716.3 788.9,717.7 790.5,718.8 793.2,719.9 795.2,720.4 797.2,720.6 837.4,720.6 878.0,720.6 918.0,720.6 958.8,720.6 975.0,720.6" stroke="#0ae8e8" stroke-width="4" fill="none" stroke-linejoin="round" stroke-linecap="butt" shape-rendering="crispEdges"/>
<path d="M157.2,434.4 158.2,434.3 158.4,434.4 159.2,434.2 160.2,434.0 161.2,433.9 162.1,433.7 163.1,433.7 164.1,433.4 165.1,433.3 166.1,433.4 167.1,433.2 168.1,433.1 169.1,433.1 170.1,432.9 171.1,432.9 172.1,432.6 172.2,432.7 173.1,432.7 174.1,432.3 175.1,432.1 176.1,432.9 177.1,432.4 178.1,432.5 179.1,432.3 180.1,432.2 181.1,432.2 182.1,432.2 183.1,431.7 184.1,432.3 185.1,431.9 186.1,432.2 187.1,432.7 188.1,432.0 189.1,432.4 190.1,431.9 191.1,432.0 192.1,431.8 193.1,431.7 194.1,431.3 195.1,431.2 196.1,431.5 197.1,431.1 198.1,431.2 199.1,431.5 200.1,431.2 201.1,431.2 202.1,431.0 203.1,431.4 204.1,431.2 205.1,431.3 206.1,431.2 207.1,431.7 208.1,431.2 209.1,430.9 210.1,431.3 211.1,431.2 212.1,431.2 213.1,430.8 214.1,431.4 215.1,431.2 216.1,431.1 216.6,430.6 217.1,431.0 218.1,430.9 219.1,431.2 220.1,430.7 221.1,430.4 222.1,430.7 223.1,430.3 224.1,430.6 225.1,430.3 226.1,430.5 227.1,430.6 228.1,430.6 229.1,430.5 230.1,430.5 231.1,430.7 232.1,430.7 233.1,430.8 234.1,430.6 235.1,430.2 236.1,430.8 237.1,431.0 238.1,430.8 239.1,430.8 240.1,430.7 241.1,430.4 242.1,430.2 243.1,430.7 244.1,430.7 245.1,430.5 246.1,430.5 247.1,430.5 248.1,430.5 249.1,430.6 250.1,430.5 251.1,430.6 252.1,430.3 253.1,430.3 254.1,430.5 255.1,430.2 256.1,429.6 257.1,430.1 258.1,429.6 259.1,430.5 260.1,430.2 261.1,430.2 262.1,429.9 263.1,429.8 264.1,430.0 265.1,430.1 266.1,429.8 267.1,430.0 268.1,430.1 269.1,429.9 270.1,429.6 271.1,429.3 272.0,429.8 272.1,429.7 273.1,429.9 274.1,430.2 275.1,430.1 276.1,429.7 277.1,430.1 278.1,430.2 279.1,429.8 280.1,429.8 281.0,429.9 282.0,429.7 283.0,429.5 284.0,429.4 285.0,429.6 286.0,429.4 287.0,429.5 288.0,429.2 289.0,429.5 290.0,429.4 291.0,428.8 292.0,429.3 293.0,428.9 294.0,429.1 295.0,428.9 296.0,428.8 297.0,429.0 298.0,428.7 299.0,428.9 300.0,428.8 300.0,428.7 301.0,428.8 302.0,428.5 303.0,428.8 304.0,428.3 305.0,428.7 306.0,428.7 307.0,428.6 308.0,428.3 309.0,429.1 310.0,428.4 311.0,428.4 312.0,428.1 313.0,428.6 314.0,428.0 315.0,428.2 316.0,427.8 317.0,428.0 318.0,427.8 319.0,428.2 320.0,427.9 321.0,427.9 322.0,428.2 323.0,427.8 324.0,427.9 325.0,428.4 326.0,427.9 327.0,428.5 328.0,428.2 329.0,428.1 330.0,428.2 331.0,428.4 332.0,428.1 333.0,428.2 334.0,428.3 335.0,428.1 336.0,427.9 337.0,427.6 338.0,427.4 339.0,427.5 340.0,427.7 341.0,427.6 342.0,427.5 343.0,427.6 344.0,427.3 345.0,427.2 346.0,427.2 347.0,427.7 348.0,426.8 349.0,427.3 350.0,427.3 351.0,427.2 352.0,427.7 353.0,427.5 354.0,427.3 355.0,427.0 356.0,427.2 357.0,427.0 358.0,427.0 359.0,427.0 360.0,426.8 361.0,427.0 362.0,427.3 363.0,427.2 364.0,427.0 365.0,426.7 366.0,427.3 367.0,427.3 368.0,427.1 369.0,427.0 370.0,427.3 371.0,426.8 372.0,427.1 373.0,426.6 374.0,426.5 375.0,426.6 376.0,426.3 377.0,426.6 378.0,426.8 379.0,426.3 380.0,426.8 381.0,426.5 382.0,426.8 383.0,426.8 384.0,426.7 385.0,426.6 386.0,426.3 387.0,426.5 388.0,426.5 389.0,426.9 389.7,426.7 390.0,426.1 391.0,426.6 392.0,426.5 393.0,426.4 394.0,426.4 395.0,426.2 396.0,425.9 397.0,426.0 398.0,426.1 399.0,425.7 400.0,425.9 401.0,425.7 402.0,425.6 403.0,425.5 404.0,425.9 405.0,426.0 406.0,425.9 407.0,425.6 408.0,426.0 409.0,425.9 410.0,426.1 411.0,426.2 412.0,425.8 413.0,425.9 414.0,425.8 415.0,425.7 416.0,426.3 417.0,426.0 418.0,425.3 419.0,425.7 420.0,425.5 421.0,425.8 422.0,425.5 423.0,425.3 424.0,425.3 425.0,425.3 426.0,425.3 427.0,425.2 428.0,425.2 429.0,425.3 430.0,424.9 431.0,425.0 432.0,424.9 433.0,424.9 434.0,425.1 435.0,424.6 436.0,424.8 437.0,424.6 438.0,424.8 439.0,424.6 440.0,424.7 441.0,424.6 442.0,424.2 443.0,424.6 444.0,424.3 445.0,424.4 446.0,424.5 447.0,424.6 448.0,424.5 449.0,424.9 450.0,424.6 451.0,424.4 452.0,424.4 453.0,424.6 454.0,424.7 455.0,424.3 456.0,424.1 457.0,424.3 458.0,424.2 459.0,424.1 460.0,423.9 461.0,423.4 462.0,423.8 463.0,424.1 464.0,424.0 465.0,423.6 466.0,424.0 467.0,423.7 468.0,424.4 469.0,424.1 470.0,423.8 471.0,424.2 472.0,423.9 473.0,424.2 474.0,424.0 475.0,423.7 476.0,424.1 477.0,423.6 478.0,424.1 479.0,423.7 480.0,423.5 481.0,423.2 482.0,424.0 483.0,423.8 484.0,423.3 485.0,423.9 486.0,423.6 487.0,423.6 488.0,423.5 489.0,423.4 490.0,423.8 491.0,423.4 492.0,423.0 493.0,423.7 494.0,423.4 495.0,422.9 496.0,422.9 497.0,422.9 498.0,423.0 499.0,423.0 500.0,423.0 501.0,423.0 501.9,423.0 502.9,423.3 503.9,423.1 504.9,423.6 505.3,423.0 505.9,423.4 506.9,423.2 507.9,423.0 508.9,423.3 509.9,423.1 510.9,422.8 511.9,422.9 512.9,423.2 513.9,422.7 514.9,423.2 515.9,422.9 516.9,422.6 517.9,423.0 518.9,422.9 519.9,422.6 520.9,422.5 521.9,422.9 522.9,422.8 523.9,422.2 524.9,422.4 525.9,422.5 526.9,422.4 527.9,422.2 528.9,422.8 529.9,422.7 530.9,422.7 531.9,422.9 532.9,422.5 533.9,422.6 534.9,422.5 535.9,422.3 536.9,422.3 537.9,422.4 538.9,422.1 539.9,422.4 540.9,421.9 541.9,422.0 542.9,421.6 543.9,421.9 544.9,421.9 545.9,422.3 546.9,422.1 547.9,422.0 548.9,422.2 549.9,422.1 550.9,422.0 551.9,421.7 552.9,421.4 553.9,421.8 554.9,421.8 555.9,421.8 556.9,421.9 557.9,421.6 558.9,422.3 559.9,421.7 560.9,421.8 561.9,422.2 562.9,421.6 563.9,422.1 564.9,422.2 565.9,421.9 566.9,421.7 567.9,421.7 568.9,421.4 569.9,422.1 570.9,421.7 571.9,421.5 572.9,421.4 573.9,421.7 574.9,421.9 575.9,421.3 576.9,421.5 577.9,421.3 578.9,421.9 579.9,421.7 580.9,422.1 581.9,421.5 582.9,421.5 583.9,421.4 584.9,421.7 585.9,421.2 586.9,421.6 587.9,421.4 588.9,421.2 589.9,421.1 590.9,421.6 591.9,421.8 592.9,421.2 593.9,421.4 594.9,421.7 595.9,421.2 596.9,421.3 597.9,421.1 598.9,421.2 599.9,421.2 600.9,421.1 601.9,420.9 602.9,420.6 603.9,420.7 604.9,420.7 605.9,421.0 606.9,420.7 607.9,420.6 608.9,420.9 609.9,420.9 610.9,420.6 611.9,420.7 612.9,420.9 613.9,420.8 614.9,420.6 615.9,420.8 616.9,420.8 617.9,421.0 618.9,420.4 619.9,420.7 620.9,420.6 621.9,420.2 622.5,420.7 622.9,420.7 623.9,420.2 624.9,420.8 625.9,420.2 626.9,420.4 627.9,420.6 628.9,420.8 629.9,420.7 630.9,420.5 631.9,420.8 632.9,420.5 633.9,420.6 634.9,420.9 635.9,420.2 636.9,419.6 637.9,420.0 638.9,419.9 639.9,420.1 640.9,420.0 641.9,419.8 642.9,419.8 643.9,420.0 644.9,420.0 645.9,419.5 646.9,420.2 647.9,420.0 648.9,420.0 649.9,420.0 650.9,419.7 651.9,419.9 652.9,420.0 653.9,419.9 654.9,419.7 655.9,419.5 656.9,419.3 657.9,419.6 658.9,419.5 659.9,419.2 660.9,418.8 661.9,419.1 662.9,418.8 663.9,419.5 664.9,419.4 665.9,419.1 666.9,419.3 667.9,419.8 668.9,419.5 669.9,418.8 670.0,419.1 670.9,418.9 671.9,418.8 672.9,419.2 673.9,419.7 674.9,419.5 675.9,419.2 676.9,419.2 677.9,419.3 678.9,419.6 679.9,419.1 680.9,419.0 681.9,419.8 682.9,419.4 683.9,419.6 684.9,419.3 685.9,419.5 686.9,419.0 687.9,419.2 688.9,419.5 689.9,419.3 690.9,418.9 691.9,419.2 692.9,418.9 693.9,418.8 694.9,419.3 695.9,419.6 696.9,419.5 697.9,419.0 698.9,419.7 699.9,419.7 700.9,419.4 701.9,418.9 702.9,419.7 703.9,419.7 704.9,419.7 705.9,419.1 706.9,419.1 707.9,419.6 708.9,419.6 709.9,419.6 710.9,419.5 711.9,419.7 712.2,419.3 712.9,419.3 713.9,419.2 714.9,419.5 715.9,419.5 716.9,419.9 717.9,419.9 718.9,419.6 719.9,420.3 720.9,419.9 721.9,420.4 722.9,420.7 723.9,421.0 724.9,420.4 725.8,421.3 726.8,421.6 727.7,421.9 727.8,421.1 728.7,421.6 729.7,422.0 730.7,422.1 731.7,422.8 732.6,422.6 733.6,423.4 734.5,423.6 737.3,424.8 739.8,426.2 742.2,428.1 744.4,430.3 746.2,432.6 747.7,435.1 749.5,438.7 751.5,443.4 754.8,453.9 755.9,456.7 758.1,461.2 758.9,463.0 759.9,466.8 761.0,472.7 762.3,482.7 763.5,493.6 764.6,508.6 765.7,528.6 767.4,569.5 768.5,600.5 769.8,627.5 770.9,646.5 772.3,664.4 773.5,678.4 774.6,688.3 775.7,695.2 777.0,701.1 778.5,706.9 779.5,709.9 780.7,712.7 782.1,715.1 783.4,716.6 785.0,718.0 786.8,719.2 788.8,719.9 792.5,720.4 795.6,720.6 836.4,720.6 877.4,720.6 917.4,720.6 957.5,720.6 975.0,720.6" stroke="#80ff80" stroke-width="4" fill="none" stroke-linejoin="round" stroke-linecap="butt" shape-rendering="crispEdges"/>
<path d="M157.2,142.9 158.0,142.3 158.4,142.0 158.8,141.7 159.6,141.1 160.4,140.4 161.0,140.0 161.2,139.9 162.1,139.3 163.0,138.8 163.9,138.3 164.9,138.1 165.5,137.9 165.8,138.2 166.8,138.1 167.8,138.1 168.8,138.1 169.8,138.1 170.8,138.4 171.9,138.3 172.0,138.2 172.9,137.7 173.9,138.1 174.8,138.0 175.8,138.1 176.8,138.6 177.8,137.8 178.8,138.4 179.8,138.7 180.8,138.7 181.8,138.8 182.8,138.4 183.8,138.6 184.8,139.0 185.8,138.9 186.8,139.4 187.8,139.1 188.8,139.1 189.8,139.3 190.8,139.2 191.8,139.5 192.8,139.3 193.8,139.5 194.4,139.5 194.8,139.7 195.8,139.4 196.8,139.4 197.8,139.9 198.8,139.9 199.8,139.6 200.8,139.9 201.8,139.7 202.8,140.5 203.8,139.6 204.8,140.4 205.8,139.8 206.8,140.2 207.8,140.1 208.8,140.0 209.8,140.3 210.8,140.3 211.8,140.1 212.8,140.1 213.8,140.8 214.8,140.7 215.8,140.4 216.8,140.3 217.8,140.5 218.8,140.4 219.8,140.6 220.8,140.1 221.8,140.3 222.8,140.2 223.8,140.7 224.8,140.9 225.8,140.5 226.8,140.7 227.8,141.0 228.8,140.7 229.8,140.7 230.8,141.1 231.8,141.0 232.8,140.8 233.8,141.2 234.8,141.0 235.8,140.4 236.8,140.9 237.8,140.8 238.8,141.4 238.8,141.0 239.8,141.1 240.8,141.2 241.8,141.2 242.8,140.8 243.8,141.3 244.8,141.2 245.8,141.6 246.8,141.8 247.8,140.9 248.8,140.9 249.8,141.1 250.8,141.2 251.8,141.2 252.8,141.4 253.8,141.7 254.8,141.2 255.8,141.2 256.8,141.2 257.8,141.9 258.8,141.9 259.8,141.3 260.8,141.4 261.8,141.9 262.8,142.2 263.8,142.1 264.8,141.9 265.8,141.9 266.8,141.9 267.8,141.7 268.8,142.2 269.8,141.8 270.8,141.5 271.8,141.6 272.8,141.6 273.8,141.9 274.8,142.2 275.8,141.6 276.8,142.3 277.8,142.5 278.8,142.0 279.8,141.7 280.8,141.7 281.8,141.8 282.8,141.6 283.8,141.7 284.8,141.9 285.8,141.9 286.8,142.1 287.8,141.8 288.8,142.4 289.8,142.3 290.8,142.3 291.8,141.9 292.8,142.4 293.8,142.0 294.8,142.5 295.8,142.3 296.8,141.9 297.8,142.0 298.8,142.5 299.8,142.2 300.0,142.0 300.8,142.0 301.8,142.1 302.8,142.0 303.8,142.1 304.8,142.0 305.8,142.1 306.8,142.4 307.8,142.2 308.8,142.7 309.8,142.6 310.8,142.6 311.8,142.5 312.8,142.7 313.8,142.4 314.8,142.4 315.8,142.2 316.8,142.3 317.8,142.0 318.8,142.2 319.8,142.5 320.8,142.3 321.8,142.5 322.8,142.1 323.8,142.6 324.8,142.2 325.8,142.4 326.8,142.3 327.8,142.6 328.8,142.3 329.8,142.2 330.8,141.8 331.8,142.2 332.8,142.1 333.8,142.6 334.8,142.9 335.8,142.0 336.8,142.2 337.8,142.7 338.8,142.9 339.8,142.7 340.8,142.8 341.8,142.9 342.8,142.9 343.8,143.1 344.8,142.8 345.8,142.3 346.8,142.5 347.8,142.6 348.8,142.4 349.8,142.5 350.8,142.4 351.8,142.4 352.8,142.8 353.8,142.5 354.8,142.4 355.8,142.5 356.8,142.8 357.8,143.3 358.8,142.9 359.8,143.2 360.8,143.0 361.8,142.3 362.8,142.9 363.8,142.7 364.8,142.6 365.8,142.7 366.8,143.4 367.8,142.6 368.8,142.8 369.8,143.2 370.8,143.1 371.8,142.5 372.8,142.9 373.8,142.8 374.8,142.8 375.8,143.0 376.8,142.6 377.8,142.7 378.8,143.1 379.8,142.3 380.8,142.7 381.8,142.8 382.8,142.3 383.8,142.5 384.8,142.4 385.8,142.7 386.8,142.6 387.8,143.0 388.8,143.1 389.8,142.8 390.8,142.8 391.8,143.0 392.8,142.9 393.8,142.6 394.8,143.3 395.8,143.0 396.8,143.2 397.8,142.6 398.8,143.1 399.8,143.4 400.8,143.1 401.8,142.7 402.8,143.0 403.8,142.9 404.8,143.0 405.8,142.8 406.8,143.1 407.8,142.8 408.8,143.0 409.8,142.8 410.8,143.1 411.8,143.3 412.8,142.9 413.8,143.2 414.8,142.8 415.8,142.9 416.8,143.1 417.8,143.4 418.8,142.9 419.8,143.4 420.8,142.7 421.8,143.2 422.8,143.5 423.8,143.4 424.8,143.0 425.8,143.0 426.8,143.5 427.8,142.9 428.8,143.2 429.8,143.0 430.8,143.0 431.8,143.5 432.8,143.2 433.8,143.0 434.8,142.5 435.8,143.0 436.8,142.9 437.8,143.0 438.8,143.3 439.8,142.6 440.8,143.1 441.8,143.2 442.8,143.1 443.8,143.7 444.8,143.0 445.8,143.3 446.8,143.2 447.8,142.7 448.8,142.9 449.8,143.0 450.8,143.4 451.8,143.4 452.8,143.3 453.8,143.3 454.8,142.8 455.8,143.4 456.8,143.3 457.8,143.8 458.8,143.9 459.8,144.0 460.8,143.6 461.8,143.5 462.8,143.2 463.8,143.4 464.8,143.1 465.8,143.6 466.8,143.1 467.8,143.4 468.8,143.2 469.8,143.4 470.8,143.6 471.8,143.3 472.8,143.4 473.8,143.0 474.8,143.6 475.8,143.1 476.8,143.4 477.8,143.7 478.8,142.6 479.8,143.1 480.8,143.3 481.8,143.7 482.8,143.2 483.8,143.4 484.8,143.2 485.8,143.5 486.8,143.2 487.8,143.6 488.8,142.7 489.8,142.8 490.8,143.8 491.8,143.5 492.8,143.2 493.8,144.0 494.8,143.7 495.8,143.6 496.8,143.3 497.8,143.6 498.8,143.6 499.8,143.1 500.8,143.6 501.8,143.4 502.8,143.8 503.8,143.8 504.8,143.4 505.8,143.4 506.8,143.6 507.8,143.7 508.8,143.6 509.8,143.7 510.8,143.9 511.8,143.9 512.8,144.0 513.8,143.8 514.8,143.5 515.8,143.3 516.8,143.9 517.8,143.6 518.8,143.6 519.8,143.7 520.8,143.4 521.8,143.8 522.8,143.2 523.8,143.8 524.8,143.7 525.8,144.4 526.8,144.1 527.8,143.9 528.8,143.9 529.8,144.1 530.8,143.7 531.8,143.8 532.8,143.8 533.8,144.4 534.8,143.8 535.8,143.3 536.8,143.9 537.8,144.3 538.8,143.4 539.8,144.4 540.8,143.6 541.8,143.8 542.8,143.4 543.8,143.5 544.8,143.3 545.8,143.4 546.8,143.2 547.8,143.9 548.8,143.5 549.8,143.8 550.8,143.8 551.8,143.5 552.8,143.7 553.8,143.6 554.8,143.5 555.8,143.7 556.8,143.8 557.8,143.4 558.8,143.3 559.8,143.6 560.8,143.8 561.8,144.1 562.8,144.2 563.8,143.9 564.8,144.0 565.8,143.8 566.8,144.1 567.8,144.0 568.8,143.9 569.8,143.8 570.8,143.9 571.8,144.3 572.8,143.6 573.8,143.9 574.8,143.9 575.8,144.3 576.8,144.4 577.8,143.9 578.8,143.2 579.8,144.0 580.8,144.0 581.8,143.4 582.8,143.8 583.8,143.8 584.8,143.2 585.8,143.9 586.8,143.9 587.8,143.9 588.8,143.7 589.8,143.7 590.8,143.8 591.8,144.0 592.8,143.7 593.8,144.2 594.8,144.0 595.8,143.3 596.8,144.2 597.8,143.8 598.8,143.7 599.8,143.9 600.8,143.6 601.8,144.1 602.8,143.6 603.8,144.0 604.8,144.6 605.8,144.7 606.8,144.3 607.8,144.1 608.8,144.5 609.8,144.2 610.8,144.3 611.8,144.3 612.8,143.9 613.8,144.3 614.8,143.5 615.8,144.5 616.8,143.7 617.8,143.9 618.8,143.8 619.8,144.2 620.8,144.2 621.8,144.2 622.8,144.3 623.8,144.3 624.8,144.1 625.8,143.7 626.8,143.6 627.8,143.6 628.8,144.2 629.8,144.1 630.8,144.2 631.8,144.2 632.8,144.1 633.8,143.9 634.8,143.8 635.8,143.8 636.8,144.5 637.8,144.4 638.8,143.9 639.8,144.1 640.8,144.4 641.8,144.7 642.8,144.1 643.8,144.3 644.8,144.5 645.8,143.8 646.8,144.1 647.8,144.1 648.8,144.1 649.8,144.8 650.0,144.6 650.8,144.4 651.8,144.1 652.8,144.5 653.8,144.5 654.8,144.2 655.8,144.3 656.8,144.0 657.8,144.3 658.8,144.4 659.8,144.6 660.8,144.6 661.8,144.7 662.8,144.4 663.8,144.4 664.8,144.8 665.8,144.7 666.8,144.4 667.8,144.9 668.8,144.9 669.8,144.9 670.8,144.8 671.8,144.6 672.8,144.9 673.8,145.2 674.8,144.8 675.8,144.7 676.8,144.8 677.8,144.4 678.8,144.8 679.8,144.7 680.8,145.1 681.8,144.9 682.8,145.1 683.8,145.4 684.8,144.8 685.8,144.8 686.8,145.1 687.8,145.0 688.8,145.1 689.8,144.8 690.8,145.2 691.8,145.1 692.8,144.6 693.8,145.0 694.4,145.1 694.8,145.2 695.8,144.8 696.8,144.7 697.8,145.2 698.8,144.8 699.8,145.1 700.8,145.3 701.8,145.4 702.8,145.3 703.8,145.2 704.8,145.8 705.8,145.6 706.8,145.8 707.8,146.5 708.8,146.3 709.8,145.9 710.8,146.3 711.8,146.4 712.7,146.5 713.7,146.3 714.7,147.1 715.7,147.2 716.6,147.2 716.6,147.1 717.6,147.4 718.6,147.6 719.6,147.4 720.6,147.9 721.6,148.1 722.6,148.9 723.5,149.1 724.5,149.1 725.4,149.6 726.3,150.6 727.1,150.4 727.7,151.1 728.0,151.0 728.8,152.0 729.6,152.2 730.3,152.8 731.1,153.4 731.8,154.3 732.6,155.2 733.3,155.9 733.9,156.4 734.5,157.9 735.1,158.2 736.6,160.7 738.4,164.3 741.3,171.8 743.6,178.5 746.7,189.0 749.0,197.7 750.6,204.5 751.8,211.4 754.4,229.2 756.7,244.1 757.6,251.0 758.8,264.0 760.4,285.9 762.8,325.8 765.2,364.8 766.1,381.7 767.5,421.7 768.6,459.7 770.5,500.6 772.1,541.6 773.7,581.6 775.7,621.5 776.8,640.5 777.6,651.5 779.2,668.4 780.3,681.4 781.2,689.3 782.1,695.3 783.0,700.2 784.0,704.0 785.0,706.9 786.4,709.6 788.0,712.2 789.9,714.4 791.4,715.8 793.0,717.1 795.6,718.6 798.3,719.8 800.3,720.4 802.3,720.6 843.2,720.6 883.6,720.6 923.8,720.6 963.8,720.6 975.0,720.6" stroke="#ffff14" stroke-width="4" fill="none" stroke-linejoin="round" stroke-linecap="butt" shape-rendering="crispEdges"/>
<path d="M157.2,393.9 158.0,393.1 158.7,392.6 158.8,392.4 159.6,392.0 160.5,391.4 161.4,390.9 162.3,390.6 163.2,390.2 163.3,390.2 164.1,390.0 165.1,389.9 166.1,389.5 167.1,389.4 168.1,389.3 169.1,389.0 170.1,388.5 171.1,388.4 172.1,389.0 172.2,388.9 173.1,388.5 174.1,388.7 175.1,388.7 176.1,388.7 177.1,388.7 178.1,389.3 179.1,388.5 180.1,388.7 181.1,388.5 182.1,388.5 183.0,388.4 184.0,388.6 185.0,388.4 186.0,388.7 187.0,388.4 188.0,388.2 189.0,389.0 190.0,388.2 191.0,388.6 192.1,389.1 193.1,388.4 194.1,388.9 195.1,388.9 196.1,388.8 197.1,388.1 198.1,388.8 199.1,388.5 200.1,388.3 201.1,388.7 202.1,388.3 203.1,388.7 204.1,388.2 205.1,388.4 206.1,388.2 207.1,388.3 208.1,388.1 209.1,388.1 210.1,388.4 211.1,388.2 212.1,388.2 213.1,388.5 214.1,388.2 215.1,387.7 216.1,388.1 216.6,388.1 217.1,388.4 218.1,388.4 219.1,388.5 220.1,388.3 221.1,388.6 222.1,388.1 223.1,388.9 224.1,388.7 225.1,388.8 226.1,388.6 227.1,388.5 228.1,388.3 229.1,388.5 230.1,388.0 231.1,388.5 232.1,388.3 233.1,388.6 234.1,388.0 235.1,388.0 236.1,388.2 237.1,388.2 238.1,388.2 239.1,387.9 240.1,387.9 241.1,388.0 242.1,388.0 243.1,387.8 244.1,387.8 245.1,387.9 246.1,388.2 247.1,388.0 248.1,388.1 249.1,388.3 250.1,388.3 251.1,388.0 252.1,388.1 253.1,387.7 254.1,388.0 255.1,388.1 256.1,387.6 257.1,388.2 258.1,388.2 259.1,387.7 260.1,388.0 261.1,387.3 262.1,387.4 263.1,387.8 264.1,387.9 265.1,387.8 266.1,387.7 267.1,388.3 268.1,387.8 269.1,387.7 270.1,387.9 271.1,387.7 272.0,387.4 272.1,387.3 273.1,386.9 274.1,387.6 275.1,387.1 276.1,386.9 277.1,387.1 278.1,386.9 279.1,387.7 280.1,387.2 281.1,387.5 282.1,387.5 283.1,387.2 284.1,387.2 285.1,386.9 286.1,386.9 287.1,386.8 288.1,386.9 289.1,386.7 290.1,387.1 291.1,386.9 292.1,386.8 293.1,386.4 294.1,386.9 295.1,386.9 296.1,386.6 297.1,386.3 298.1,386.6 299.1,386.6 300.0,385.9 300.1,386.5 301.1,385.9 302.1,386.2 303.1,386.6 304.1,386.2 305.1,386.3 306.1,386.1 307.1,386.2 308.1,386.7 309.1,386.4 310.1,386.1 311.1,386.1 312.1,386.0 313.1,386.5 314.0,386.1 315.0,386.2 316.0,385.8 317.0,385.6 318.0,386.2 319.0,385.8 320.0,385.6 321.0,385.7 322.0,385.7 323.0,385.6 324.0,385.5 325.0,386.0 326.0,385.8 327.0,385.8 328.0,385.4 329.0,385.4 330.0,385.3 331.0,385.4 332.0,385.2 333.0,385.1 334.0,384.8 335.0,384.6 336.0,384.7 337.0,384.7 338.0,384.7 339.0,384.5 340.0,385.3 341.0,385.0 342.0,384.4 343.0,384.6 344.0,384.6 345.0,385.0 346.0,385.2 347.0,384.8 348.0,385.1 349.0,384.7 350.0,385.0 351.0,385.0 352.0,384.7 353.0,384.7 354.0,384.5 355.0,384.3 356.0,384.1 357.0,384.4 358.0,384.4 359.0,384.3 360.0,384.4 361.0,384.2 362.0,384.1 363.0,384.2 364.0,384.6 365.0,384.3 366.0,384.7 367.0,384.1 368.0,384.0 369.0,384.3 370.0,384.3 371.0,383.8 372.0,384.1 373.0,384.0 374.0,384.1 375.0,383.8 376.0,383.7 377.0,383.3 378.0,383.7 379.0,383.8 380.0,384.1 381.0,383.4 382.0,383.5 383.0,383.5 384.0,383.9 385.0,383.1 386.0,383.4 387.0,384.2 388.0,383.8 389.0,383.4 389.7,383.6 390.0,383.8 391.0,383.7 392.0,383.4 393.0,383.2 394.0,383.6 395.0,383.4 396.0,383.6 397.0,383.5 398.0,383.2 399.0,383.6 400.0,383.1 401.0,383.3 402.0,383.0 403.0,383.0 404.0,382.9 405.0,382.7 406.0,382.9 407.0,383.1 408.0,383.1 409.0,383.0 410.0,382.6 411.0,382.9 412.0,382.7 413.0,383.0 414.0,382.3 415.0,382.9 416.0,382.4 417.0,382.8 418.0,382.5 419.0,382.7 420.0,382.4 421.0,382.0 422.0,382.1 423.0,382.1 424.0,382.2 425.0,381.6 426.0,381.7 427.0,381.8 428.0,381.9 429.0,382.0 430.0,381.7 431.0,381.4 432.0,381.8 433.0,381.6 434.0,381.9 435.0,381.5 436.0,381.7 437.0,381.3 438.0,381.5 439.0,381.6 440.0,381.7 441.0,381.4 442.0,381.7 443.0,381.5 444.0,381.7 445.0,381.8 446.0,382.3 447.0,381.5 448.0,381.7 449.0,381.5 450.0,381.7 451.0,381.4 452.0,381.4 453.0,381.3 454.0,381.7 455.0,381.4 456.0,380.8 457.0,381.2 458.0,381.0 459.0,380.5 460.0,380.8 461.0,380.9 462.0,380.8 463.0,381.0 464.0,380.6 465.0,381.1 466.0,381.0 467.0,381.0 468.0,380.8 469.0,380.9 470.0,380.7 471.0,381.0 472.0,380.8 473.0,381.1 474.0,380.5 475.0,380.9 476.0,380.3 477.0,380.3 478.0,380.0 479.0,380.4 480.0,380.2 481.0,380.3 482.0,380.4 483.0,380.1 484.0,380.2 485.0,380.4 486.0,380.2 487.0,380.1 488.0,380.2 489.0,380.3 490.0,380.4 491.0,380.3 492.0,379.9 493.0,380.1 494.0,380.1 494.9,379.6 495.9,379.7 496.9,379.5 497.9,379.7 498.9,380.0 499.9,379.7 500.9,379.4 501.9,379.8 502.9,379.7 503.9,380.0 504.9,379.4 505.3,379.5 505.9,379.7 506.9,379.3 507.9,379.9 508.9,379.2 509.9,379.4 510.9,379.3 511.9,379.5 512.9,379.7 513.9,379.7 514.9,379.8 515.9,379.7 516.9,379.0 517.9,379.5 518.9,378.9 519.9,379.1 520.9,379.0 521.9,379.1 522.9,379.4 523.9,379.0 524.9,379.6 525.9,379.3 526.9,379.4 527.9,379.3 528.9,379.4 529.9,379.1 530.9,379.5 531.9,378.7 532.9,379.1 533.9,378.8 534.9,378.8 535.9,378.9 536.9,378.7 537.9,379.0 538.9,379.1 539.9,378.9 540.9,379.1 541.9,378.6 542.9,378.4 543.9,378.7 544.9,378.8 545.9,379.3 546.9,378.6 547.9,378.9 548.9,378.8 549.9,379.1 550.9,378.6 551.9,378.8 552.9,378.6 553.9,378.4 554.9,378.3 555.9,378.4 556.9,378.9 557.9,378.7 558.9,378.5 559.9,378.5 560.9,378.3 561.9,378.3 562.9,378.4 563.9,378.6 564.9,378.7 565.9,378.1 566.9,378.5 567.9,378.8 568.9,378.2 569.9,378.3 570.9,378.5 571.9,378.7 572.9,378.6 573.9,378.3 574.9,378.5 575.9,378.6 576.9,378.5 577.9,378.8 578.9,378.5 579.9,378.1 580.9,378.1 581.9,378.2 582.9,378.0 583.9,378.2 584.9,378.1 585.9,378.4 586.9,378.1 587.9,378.2 588.9,377.8 589.9,377.8 590.9,378.0 591.9,378.0 592.9,378.1 593.9,377.9 594.9,377.7 595.9,378.2 596.9,378.1 597.9,377.5 598.9,377.8 599.9,377.9 600.9,378.0 601.9,377.8 602.9,377.5 603.9,378.0 604.9,377.8 605.9,377.9 606.9,377.6 607.9,377.7 608.9,377.6 609.9,377.7 610.9,377.3 611.9,377.6 612.9,377.4 613.9,377.0 614.9,377.3 615.9,377.3 616.9,377.5 617.9,377.6 618.9,377.1 619.9,377.6 620.9,377.4 621.9,377.2 622.5,377.7 622.9,377.3 623.9,377.1 624.9,377.5 625.9,377.6 626.9,377.1 627.9,377.4 628.9,377.4 629.9,377.0 630.9,377.6 631.9,377.1 632.9,377.2 633.9,376.6 634.9,377.2 635.9,376.9 636.9,377.1 637.9,376.6 638.9,377.2 639.9,377.3 640.9,377.3 641.9,376.1 642.9,376.9 643.9,376.8 644.9,375.9 645.9,376.4 646.9,376.4 647.9,376.8 648.9,376.2 649.9,376.4 650.9,376.4 651.9,376.4 652.9,376.2 653.9,376.6 654.9,376.5 655.9,376.0 656.9,376.5 657.9,376.1 658.9,376.2 659.9,376.6 660.9,376.3 661.9,376.3 662.9,376.3 663.9,376.3 664.9,376.0 665.9,375.8 666.9,376.2 667.9,376.2 668.9,376.1 669.9,375.9 670.0,376.2 670.9,376.0 671.9,375.8 672.9,376.2 673.9,376.2 674.9,376.3 675.9,375.8 676.9,375.7 677.9,376.0 678.9,375.8 679.9,375.9 680.9,376.2 681.9,375.9 682.9,376.3 683.9,376.0 684.9,376.4 685.9,376.4 686.9,376.6 687.9,376.1 688.9,375.9 689.9,376.2 690.9,375.9 691.9,375.8 692.9,375.9 693.9,375.9 694.9,375.5 696.0,375.9 697.0,375.8 698.0,375.8 699.0,375.8 700.0,375.7 701.0,376.1 702.0,375.8 703.0,375.7 704.0,375.8 705.0,376.0 706.0,376.0 706.9,376.1 707.9,375.8 708.9,375.9 709.9,376.3 710.9,375.9 711.9,376.3 712.9,376.1 713.9,375.8 714.9,375.4 715.9,375.9 716.6,375.6 716.9,375.5 717.9,375.3 718.9,375.9 719.9,375.7 720.9,375.9 721.9,376.0 722.9,376.2 723.9,376.3 724.9,376.6 725.9,376.7 726.9,376.4 727.9,377.5 728.8,377.7 729.7,377.7 730.0,378.2 730.7,377.8 731.6,377.8 732.5,379.2 733.4,379.5 734.4,379.4 735.2,380.5 737.7,382.3 739.8,384.2 741.6,386.5 743.3,389.2 745.6,393.7 747.1,397.3 751.0,408.7 757.0,425.7 758.2,429.5 759.6,435.4 760.7,442.3 761.7,451.2 762.8,464.2 763.7,480.2 765.2,520.1 766.6,553.1 767.9,593.1 769.0,617.0 770.1,637.0 771.0,649.0 773.9,679.9 774.8,688.0 775.9,694.7 777.1,700.6 778.4,705.4 779.7,709.4 780.9,712.2 782.5,715.0 784.2,717.0 785.8,718.4 787.6,719.4 789.4,720.0 793.4,720.5 834.3,720.6 875.2,720.6 915.3,720.6 955.3,720.6 975.0,720.6" stroke="#ff8000" stroke-width="4" fill="none" stroke-linejoin="round" stroke-linecap="butt" shape-rendering="crispEdges"/>
<path d="M157.4,107.6 157.7,106.5 158.1,105.7 158.3,104.4 158.4,104.3 158.6,103.6 158.8,102.7 158.9,101.8 159.1,100.7 159.3,99.7 159.5,99.1 159.6,98.9 159.8,97.6 160.1,96.9 160.4,95.9 160.8,94.9 161.0,94.4 161.1,94.1 161.5,93.1 162.0,92.2 162.5,91.2 163.0,90.5 163.0,90.4 163.7,89.8 164.5,89.0 165.3,88.5 165.5,88.4 166.1,88.0 167.0,87.5 168.0,87.1 168.0,87.2 168.9,87.0 169.9,86.7 170.9,86.5 171.9,85.8 172.2,86.6 172.9,86.5 173.9,86.1 174.9,86.9 175.9,86.7 176.9,87.1 177.9,87.1 178.9,87.4 179.9,87.4 180.9,87.3 181.9,87.5 182.9,87.6 183.3,86.9 183.9,87.5 184.9,87.3 185.9,87.2 186.9,87.7 187.9,87.7 188.9,87.2 189.9,87.2 190.9,87.7 191.9,87.4 192.9,87.4 193.9,87.2 194.9,87.6 195.9,87.9 196.9,87.5 197.9,87.6 198.9,88.0 199.9,87.8 200.9,87.9 201.9,87.7 202.9,87.8 203.9,87.2 204.9,87.4 205.9,87.2 206.9,88.1 207.9,87.8 208.9,87.6 209.9,87.5 210.9,87.4 211.9,86.9 212.9,88.1 213.9,87.5 214.9,87.6 215.9,87.2 216.9,87.6 217.9,87.7 218.9,87.6 219.9,87.8 220.9,87.5 221.9,87.7 222.9,87.9 223.9,87.9 224.9,87.8 225.9,87.5 226.9,87.3 227.9,87.8 228.9,87.5 229.9,87.4 230.9,87.8 231.9,87.3 232.9,87.6 233.9,87.9 234.9,88.0 235.9,87.7 236.9,87.8 237.9,88.1 238.9,87.9 239.9,87.8 240.9,88.0 241.9,87.9 242.9,88.0 243.9,88.1 244.9,88.0 245.9,87.7 246.9,87.8 247.9,88.2 248.9,87.6 249.9,87.7 250.9,87.6 251.9,87.8 252.9,87.5 253.9,87.8 254.9,88.0 255.9,87.8 256.9,87.8 257.9,87.6 258.9,87.9 259.9,87.6 260.9,87.7 261.9,87.8 262.9,87.8 263.9,88.2 264.9,88.2 265.9,87.4 266.9,87.7 267.9,88.0 268.9,87.7 269.9,87.8 270.9,87.9 271.9,88.2 272.9,88.2 273.9,88.0 274.9,88.0 275.9,87.9 276.9,87.9 277.9,87.7 278.9,87.6 279.9,88.0 280.9,88.3 281.9,88.3 282.9,87.5 283.9,87.9 284.9,87.8 285.9,88.1 286.9,87.7 287.9,88.2 288.9,87.9 289.9,88.1 290.9,88.2 291.9,87.6 292.9,87.9 293.9,88.3 294.9,87.9 295.9,88.1 296.9,88.0 297.9,87.8 298.9,88.0 299.9,88.1 300.0,88.3 300.9,88.3 301.9,87.8 302.9,88.3 303.9,87.8 304.9,88.1 305.9,88.1 306.9,88.3 307.9,88.2 308.9,88.3 309.9,87.9 310.9,88.3 311.9,88.2 312.9,88.2 313.9,88.0 314.9,88.4 315.9,88.3 316.9,88.5 317.9,88.3 318.9,88.2 319.9,88.4 320.9,88.4 321.9,88.3 322.9,88.5 323.9,87.9 324.9,88.4 325.9,87.4 326.9,88.2 327.9,87.9 328.9,88.6 329.9,87.9 330.9,88.3 331.9,87.9 332.9,87.8 333.9,88.3 334.9,88.3 335.9,87.9 336.9,88.6 337.9,87.9 338.9,88.3 339.9,87.7 340.9,87.6 341.9,87.9 342.9,87.6 343.9,87.9 344.9,87.3 345.9,87.9 346.9,87.7 347.9,87.6 348.9,87.9 349.9,87.9 350.9,87.9 351.9,88.2 352.9,88.1 353.9,88.1 354.9,88.3 355.9,88.1 356.9,88.3 357.9,88.1 358.9,88.3 359.9,88.3 360.9,88.0 361.9,87.7 362.9,87.9 363.9,87.8 364.9,88.0 365.9,87.8 366.9,87.8 367.9,88.0 368.9,88.0 369.9,88.1 370.9,87.7 371.9,87.9 372.9,88.0 373.9,87.8 374.9,88.1 375.9,87.9 376.9,87.9 377.9,88.1 378.9,87.7 379.9,87.9 380.9,87.9 381.9,88.1 382.9,87.9 383.9,88.1 384.9,87.8 385.9,87.9 386.9,88.1 387.9,88.0 388.9,87.9 389.9,87.8 390.9,88.1 391.9,88.1 392.9,87.7 393.9,87.6 394.9,87.5 395.9,88.3 396.9,87.7 397.9,87.6 398.9,87.9 399.9,88.2 400.9,87.7 401.9,88.0 402.9,87.6 403.9,87.8 404.9,88.3 405.9,88.0 406.9,87.9 407.9,88.0 408.9,88.0 409.9,87.9 410.9,87.6 411.9,87.7 412.9,88.4 413.9,87.8 414.9,88.2 415.9,87.8 416.9,88.3 417.9,88.1 418.9,87.8 419.9,88.4 420.9,87.7 421.9,87.9 422.9,87.8 423.9,87.8 424.9,87.9 425.9,87.7 426.9,88.0 427.9,88.4 428.9,87.6 429.9,87.8 430.9,87.9 431.9,88.0 432.9,88.5 433.9,88.4 434.9,88.4 435.9,88.2 436.9,88.7 437.9,88.0 438.9,88.0 439.9,88.3 440.9,88.3 441.9,88.1 442.9,87.9 443.9,87.7 444.9,87.9 445.9,87.8 446.9,87.9 447.9,87.6 448.9,88.0 449.9,87.8 450.9,88.3 451.9,87.6 452.9,87.8 453.9,87.8 454.9,87.9 455.9,87.7 456.9,87.8 457.9,87.5 458.9,87.8 459.9,88.0 460.9,87.6 461.9,88.0 462.9,88.1 463.9,88.3 464.9,88.1 465.9,88.2 466.9,88.6 467.9,88.6 468.9,88.1 469.9,88.0 470.9,88.4 471.9,88.3 472.9,88.1 473.9,88.1 474.9,88.2 475.9,88.1 476.9,88.0 477.9,88.0 478.9,87.7 479.9,88.5 480.9,88.3 481.9,88.3 482.9,88.0 483.9,88.1 484.9,88.2 485.9,88.2 486.9,87.6 487.9,88.0 488.9,87.7 489.9,88.0 490.9,87.9 491.9,88.3 492.9,88.0 493.9,87.9 494.9,88.2 495.9,87.9 496.9,87.8 497.9,88.0 498.9,87.9 499.9,88.0 500.9,88.3 501.9,88.0 502.9,88.1 503.9,88.3 504.9,88.1 505.9,88.2 506.9,87.9 507.9,87.6 508.9,87.7 509.9,87.6 510.9,88.3 511.9,88.1 512.9,87.9 513.9,88.0 514.9,88.2 515.9,88.2 516.9,88.3 517.9,88.0 518.9,87.9 519.9,88.5 520.9,87.9 521.9,88.0 522.9,88.3 523.9,87.7 524.9,88.3 525.9,88.1 526.9,88.0 527.9,88.0 528.9,87.7 529.9,87.6 530.9,88.6 531.9,88.0 532.9,88.2 533.9,88.2 534.9,88.0 535.9,88.1 536.9,88.2 537.9,88.3 538.9,88.1 539.9,88.4 540.9,88.0 541.9,88.0 542.9,88.1 543.9,88.2 544.9,88.3 545.9,88.6 546.9,88.5 547.9,88.3 548.9,88.7 549.9,88.3 550.9,88.3 551.9,88.5 552.9,88.3 553.9,88.1 554.9,88.3 555.9,88.1 556.9,88.0 557.9,88.2 558.9,88.1 559.9,88.0 560.9,87.6 561.9,88.0 562.9,88.5 563.9,88.4 564.9,88.5 565.9,88.2 566.9,88.3 567.9,88.0 568.9,87.9 569.9,88.2 570.9,87.7 571.9,88.1 572.9,88.0 573.9,88.3 574.9,87.8 575.9,88.2 576.9,87.9 577.9,87.9 578.9,87.4 579.9,87.8 580.9,88.2 581.9,88.1 582.9,88.1 583.9,88.7 584.9,88.2 585.9,87.9 586.9,88.1 587.9,88.1 588.9,88.4 589.9,87.9 590.9,88.2 591.9,88.3 592.9,87.8 593.9,88.0 594.9,87.4 595.9,87.9 596.9,87.4 597.9,87.9 598.9,88.3 599.9,88.1 600.9,88.0 601.9,88.0 602.9,88.5 603.9,88.2 604.9,88.4 605.9,88.0 606.9,88.0 607.9,87.9 608.9,88.1 609.9,88.0 610.9,88.3 611.9,88.2 612.9,88.0 613.9,87.8 614.9,87.3 615.9,87.8 616.9,88.0 617.9,88.1 618.9,87.3 619.9,87.4 620.9,88.0 621.9,87.8 622.9,88.1 623.9,88.0 624.9,88.4 625.9,87.8 626.9,88.0 627.9,88.3 628.9,88.2 629.9,88.0 630.9,88.2 631.9,88.1 632.9,87.9 633.9,88.2 634.9,88.2 635.9,88.0 636.9,88.3 637.9,87.8 638.0,88.3 638.9,88.1 639.9,87.9 640.9,87.9 641.9,88.3 642.9,87.9 643.9,87.9 644.9,87.8 645.9,87.9 646.9,88.3 647.9,88.5 648.9,88.5 649.9,88.3 650.0,88.4 650.9,88.2 651.9,88.2 652.9,88.2 653.9,88.9 654.9,88.5 655.9,88.4 656.9,88.4 657.9,88.5 658.9,88.4 659.9,88.6 660.9,88.7 661.9,88.9 662.9,88.3 663.9,88.6 664.9,88.5 665.9,88.6 666.9,89.2 667.9,88.9 668.9,88.8 669.9,89.0 670.0,88.9 670.9,89.2 671.9,88.9 672.9,89.2 673.9,89.0 674.9,89.1 675.9,89.1 676.9,89.0 677.9,89.1 678.9,89.4 679.9,89.1 680.9,89.1 681.9,89.3 682.9,89.1 683.3,89.5 683.9,89.5 684.9,88.9 685.9,89.5 686.8,89.7 687.8,90.2 688.8,90.5 689.8,90.2 690.8,90.6 691.8,91.0 692.8,91.1 693.8,91.5 694.7,91.8 695.7,91.9 696.6,92.4 696.6,92.2 697.5,92.4 698.4,92.6 699.3,92.9 700.2,93.8 701.1,94.4 702.0,95.0 702.9,95.2 703.7,95.7 704.6,96.4 705.0,96.9 705.4,96.9 706.3,97.4 707.1,97.7 707.9,98.6 708.7,99.1 709.5,99.4 710.3,100.6 711.1,100.7 711.9,101.6 712.0,101.5 712.7,102.1 713.5,102.5 714.3,103.1 715.1,104.0 715.9,104.5 716.6,105.2 717.4,106.1 718.2,106.7 719.0,107.3 719.7,108.0 720.5,109.0 721.2,109.3 722.0,110.2 722.7,110.8 723.4,111.1 724.2,111.5 724.9,112.7 725.5,113.4 725.6,113.4 726.3,113.9 727.0,114.5 727.7,115.5 728.4,116.0 729.1,116.4 729.8,117.8 730.5,118.5 731.2,119.3 731.8,120.2 732.5,121.1 733.1,121.6 733.8,122.3 734.4,122.5 735.0,123.9 736.6,126.2 738.5,129.7 740.7,134.2 744.0,142.6 746.4,149.2 747.9,154.0 749.1,158.8 750.6,166.7 752.5,179.6 754.5,194.4 757.2,217.3 759.4,239.2 760.6,253.1 761.3,265.1 762.8,305.1 764.1,345.0 765.2,382.0 766.3,422.0 767.4,458.0 768.1,476.0 769.2,498.0 769.7,512.9 770.3,548.9 770.8,566.9 772.6,606.9 773.7,632.9 774.5,647.9 775.8,664.8 777.1,678.8 778.0,686.7 778.8,691.6 779.9,696.5 781.5,702.3 783.1,707.1 784.6,710.8 786.1,713.4 787.8,715.9 789.2,717.4 791.0,718.8 793.4,719.9 795.4,720.4 797.4,720.6 837.4,720.6 877.9,720.6 918.0,720.6 958.8,720.6 975.0,720.6" stroke="#f60000" stroke-width="4" fill="none" stroke-linejoin="round" stroke-linecap="butt" shape-rendering="crispEdges"/>
<path d="M157.2,415.3 157.6,414.3 158.0,413.4 158.5,412.4 159.0,411.7 159.0,411.8 159.6,410.9 160.2,410.1 161.0,409.4 161.5,408.9 161.7,408.9 162.6,408.3 163.5,407.8 164.4,407.4 165.3,407.1 165.5,407.0 166.3,406.7 167.2,406.5 168.2,406.1 169.2,406.0 170.2,405.6 171.2,405.2 172.1,405.3 172.2,405.1 173.1,405.2 174.1,405.2 175.1,405.3 176.1,405.1 177.1,404.9 178.1,404.7 179.1,404.4 180.1,404.6 181.1,404.5 182.1,404.4 183.1,404.1 184.1,404.0 185.0,404.3 185.1,403.8 186.1,404.1 187.1,404.3 188.1,403.8 189.1,403.7 190.1,403.9 191.1,403.8 192.1,404.0 193.1,404.3 194.1,404.0 195.1,404.0 196.1,403.7 197.1,403.7 198.1,403.9 199.1,403.6 200.1,404.0 201.1,403.6 202.1,403.5 203.1,403.1 204.1,403.2 205.1,403.0 206.1,403.1 207.1,402.7 208.1,403.1 209.1,403.5 210.1,402.6 211.1,403.5 212.1,403.3 213.1,403.5 214.1,403.0 215.1,403.7 216.1,402.9 216.6,403.1 217.1,403.4 218.1,402.8 219.1,402.5 220.1,402.9 221.1,402.7 222.1,402.6 223.0,402.6 224.0,402.5 225.0,403.1 226.0,403.0 227.0,402.4 228.0,402.6 229.0,402.5 230.0,402.8 231.0,402.3 232.0,402.8 233.0,402.3 234.0,402.0 235.0,402.1 236.0,402.0 237.0,402.6 238.0,402.1 239.0,401.8 240.0,401.8 241.0,402.0 242.0,401.4 243.0,401.2 244.0,401.8 245.0,401.5 246.0,401.3 247.0,401.3 248.0,401.6 249.0,400.6 250.0,401.5 251.0,401.2 252.0,401.4 253.0,401.2 254.0,401.9 255.0,401.0 256.0,401.3 257.0,400.4 258.0,401.0 259.0,401.2 260.0,400.7 261.0,400.4 262.0,400.9 263.0,400.9 264.0,400.9 265.0,400.5 266.0,400.7 267.0,400.3 268.0,401.0 269.0,400.4 270.0,400.8 271.0,400.4 272.0,400.4 272.0,400.7 273.0,400.1 274.0,400.5 275.0,400.1 276.0,399.9 277.0,399.9 278.0,400.4 279.0,400.1 280.0,400.0 281.0,399.9 282.0,400.4 283.0,400.4 284.0,400.2 285.0,400.3 286.0,399.3 287.0,399.8 288.0,399.8 289.0,399.8 290.0,399.5 291.0,399.6 292.0,399.3 293.0,399.1 294.0,399.0 295.0,399.2 296.0,399.1 297.0,399.1 298.0,399.5 299.0,399.1 300.0,399.2 300.0,398.9 301.0,399.1 302.0,399.4 303.0,399.3 304.0,399.1 305.0,399.0 306.0,398.9 307.0,399.1 308.0,398.8 309.0,398.3 310.0,399.4 311.0,399.1 312.0,398.8 313.0,399.0 314.0,398.4 315.0,399.0 316.0,398.7 317.0,398.9 318.0,398.5 319.0,398.6 320.0,398.6 321.0,398.7 322.0,398.6 323.0,398.5 324.0,398.2 324.9,398.7 325.9,398.3 326.9,398.2 327.9,398.1 328.9,398.0 329.9,398.1 330.9,397.9 331.9,398.3 332.9,398.4 333.9,398.4 334.9,398.0 335.9,398.1 336.9,398.0 337.9,398.3 338.9,397.7 339.9,397.7 340.9,398.3 341.9,397.9 342.9,397.5 343.9,398.1 344.9,398.1 345.9,398.0 346.9,397.2 347.9,397.6 348.9,397.4 349.9,397.5 350.9,397.2 351.9,397.9 352.9,397.3 353.9,397.4 354.9,397.5 355.9,397.4 356.9,397.4 357.9,397.2 358.9,397.3 359.9,397.1 360.9,396.7 361.9,397.4 362.9,397.0 363.9,397.0 364.9,397.1 365.9,396.8 366.9,396.8 367.9,396.6 368.9,397.1 369.9,397.1 370.9,397.0 371.9,396.7 372.9,397.2 373.9,396.9 374.9,396.4 375.9,396.4 376.9,396.8 377.9,397.2 378.9,396.9 379.9,396.8 380.9,396.8 381.9,396.6 382.9,396.6 383.9,396.9 384.9,396.6 385.9,396.9 386.9,396.4 387.9,396.7 388.9,396.5 389.7,396.4 389.9,396.4 390.9,396.3 391.9,396.7 392.9,396.0 393.9,396.4 394.9,396.4 395.9,395.9 396.9,396.4 397.9,395.4 398.9,396.0 399.9,395.9 400.9,395.9 401.9,396.1 402.9,395.8 403.9,395.7 404.9,396.1 405.9,395.6 406.9,395.3 407.9,395.6 408.9,395.4 409.9,395.3 410.9,395.5 411.9,395.2 412.9,395.2 413.9,395.3 414.9,395.4 415.9,395.3 416.9,395.0 417.9,395.7 418.9,395.4 419.9,395.2 420.9,395.2 421.9,394.5 422.9,395.3 423.9,394.8 424.9,395.2 425.9,394.7 426.9,395.2 427.9,394.9 428.9,394.9 429.9,395.2 430.9,394.9 431.9,394.3 432.9,394.3 433.9,394.4 434.9,394.2 435.9,394.5 436.9,393.9 437.9,393.7 438.9,393.8 439.9,394.0 440.9,394.1 441.9,394.3 442.9,394.4 443.9,394.2 444.9,394.0 445.9,394.3 446.9,394.0 447.9,393.8 448.9,393.9 449.9,394.2 450.9,394.2 451.9,394.1 452.9,393.3 453.9,394.0 454.9,393.3 455.9,393.5 456.9,393.7 457.9,393.2 458.9,393.1 459.9,393.3 460.9,393.8 461.9,393.6 462.9,393.0 463.9,393.3 464.9,393.3 465.9,393.3 466.9,393.0 467.9,393.5 468.9,392.8 469.9,393.1 470.9,392.5 471.8,392.9 472.8,392.8 473.8,392.9 474.8,392.0 475.8,392.7 476.8,392.7 477.8,392.5 478.8,392.9 479.8,392.9 480.8,392.6 481.8,392.7 482.8,392.8 483.8,392.6 484.8,392.7 485.8,392.5 486.8,392.1 487.8,392.0 488.8,392.6 489.8,392.3 490.8,392.0 491.8,392.1 492.8,392.4 493.8,391.6 494.8,391.8 495.8,392.2 496.8,392.3 497.8,391.7 498.8,391.8 499.8,392.0 500.8,392.2 501.8,391.8 502.8,391.4 503.8,392.1 504.8,391.9 505.3,391.7 505.8,391.6 506.8,392.0 507.8,391.8 508.8,391.9 509.8,391.8 510.8,391.7 511.8,391.8 512.8,391.9 513.8,391.1 514.8,391.3 515.8,391.2 516.8,391.6 517.8,391.1 518.8,390.7 519.8,391.0 520.8,390.9 521.8,391.0 522.8,391.1 523.8,391.0 524.8,390.9 525.8,391.7 526.8,391.2 527.8,391.0 528.8,391.3 529.8,391.4 530.8,390.6 531.8,390.9 532.8,391.0 533.8,390.6 534.8,391.0 535.8,390.5 536.8,390.6 537.8,390.7 538.8,390.8 539.8,390.7 540.8,390.5 541.8,390.5 542.8,390.0 543.8,390.9 544.8,390.3 545.8,390.3 546.8,390.5 547.8,390.7 548.8,390.6 549.8,390.3 550.8,390.1 551.8,390.5 552.8,390.3 553.8,390.4 554.8,390.5 555.8,390.6 556.8,390.7 557.8,390.3 558.8,390.1 559.8,390.6 560.8,390.7 561.8,390.1 562.8,390.6 563.8,390.5 564.8,390.3 565.8,390.5 566.8,390.5 567.8,390.6 568.8,390.6 569.8,390.3 570.8,390.2 571.8,390.8 572.8,390.0 573.8,390.2 574.8,390.1 575.8,390.3 576.8,390.3 577.8,389.7 578.8,390.5 579.8,389.9 580.8,390.8 581.8,389.9 582.8,390.3 583.8,390.0 584.8,390.3 585.8,389.9 586.8,390.1 587.8,389.9 588.8,389.9 589.8,390.0 590.8,389.7 591.8,389.8 592.8,389.5 593.8,389.7 594.8,389.6 595.8,389.9 596.8,389.8 597.8,389.5 598.8,389.8 599.8,389.9 600.8,389.5 601.8,389.3 602.8,390.1 603.8,389.7 604.8,389.8 605.8,390.2 606.8,389.4 607.8,389.6 608.8,389.1 609.8,389.5 610.8,389.4 611.8,389.2 612.8,389.1 613.8,389.2 614.8,389.1 615.8,389.4 616.8,388.9 617.8,388.9 618.8,388.9 619.8,388.5 620.8,388.7 621.8,388.5 622.5,388.9 622.8,388.3 623.8,388.6 624.8,389.0 625.8,388.4 626.8,388.4 627.8,389.0 628.8,388.5 629.8,388.7 630.8,388.7 631.8,388.3 632.8,388.1 633.8,388.9 634.8,388.3 635.8,388.4 636.8,388.0 637.8,388.2 638.8,387.8 639.8,387.6 640.8,387.7 641.8,387.7 642.8,387.5 643.8,387.6 644.8,387.7 645.8,387.4 646.8,387.7 647.8,387.3 648.8,387.7 649.8,387.9 650.0,387.9 650.8,387.2 651.8,388.1 652.8,387.3 653.8,388.2 654.8,387.8 655.8,388.0 656.8,387.7 657.8,388.1 658.8,388.2 659.8,387.9 660.8,387.9 661.8,388.1 662.8,388.1 663.8,388.1 664.8,387.8 665.8,387.9 666.8,388.2 667.8,388.1 668.8,388.2 669.8,388.0 670.8,387.9 671.8,388.3 672.8,388.3 673.8,388.0 674.8,388.2 675.8,388.0 676.8,388.2 677.8,388.1 678.8,388.7 679.8,388.5 680.8,388.3 681.8,388.0 682.8,388.2 683.3,388.6 683.8,388.4 684.8,388.6 685.7,388.2 686.7,388.4 687.7,388.8 688.7,388.9 689.7,388.7 690.7,388.9 691.7,389.3 692.7,389.2 693.7,389.7 694.7,390.0 695.7,389.8 696.7,390.0 697.7,389.9 698.7,390.5 699.6,390.2 700.6,390.5 701.6,390.9 702.6,390.8 703.5,391.6 704.5,391.4 705.5,392.0 705.5,391.9 706.4,392.0 707.4,392.3 708.3,392.2 709.3,392.7 710.2,393.3 711.1,394.2 712.1,394.3 713.0,394.7 713.9,394.6 714.9,395.5 715.8,396.1 716.7,396.2 717.6,397.1 718.6,396.6 719.5,397.1 720.4,397.7 721.0,397.7 721.3,398.1 722.2,398.6 723.2,398.7 724.1,399.1 725.1,399.6 726.0,400.0 726.9,400.0 727.9,400.5 728.8,401.4 729.7,401.5 730.6,401.9 731.5,402.7 732.4,403.0 733.2,403.6 734.0,404.1 734.4,404.5 734.8,405.0 735.6,405.2 737.9,407.1 740.1,409.3 742.1,411.6 743.8,414.0 745.2,416.6 748.8,424.2 751.9,430.1 753.2,433.0 755.1,438.5 756.7,444.3 757.9,450.2 759.3,458.0 760.9,470.0 762.3,482.9 763.6,498.8 764.8,516.8 766.0,539.8 767.0,567.7 768.2,605.7 769.1,623.7 770.2,642.7 771.8,662.6 773.2,678.5 774.1,686.5 775.0,692.4 776.2,698.3 777.9,705.1 779.1,709.1 780.2,712.0 781.5,714.6 782.6,716.0 784.1,717.4 785.8,718.7 787.7,719.6 790.5,720.2 793.5,720.5 834.4,720.6 875.4,720.6 915.4,720.6 955.5,720.6 975.0,720.6" stroke="#800000" stroke-width="4" fill="none" stroke-linejoin="round" stroke-linecap="butt" shape-rendering="crispEdges"/>
<text x="156.00" y="837.3" font-size="23" text-anchor="middle">0</text>
<text x="272.00" y="837.3" font-size="23" text-anchor="middle">50</text>
<text x="389.00" y="837.3" font-size="23" text-anchor="middle">100</text>
<text x="505.00" y="837.3" font-size="23" text-anchor="middle">150</text>
<text x="621.00" y="837.3" font-size="23" text-anchor="middle">200</text>
<text x="737.00" y="837.3" font-size="23" text-anchor="middle">250</text>
<text x="853.00" y="837.3" font-size="23" text-anchor="middle">300</text>
<text x="969.00" y="837.3" font-size="23" text-anchor="middle">350</text>
<text x="1086.00" y="837.3" font-size="23" text-anchor="middle">400</text>
<text x="150.0" y="813.70" font-size="23" text-anchor="end">-0.5</text>
<text x="150.0" y="731.70" font-size="23" text-anchor="end">0</text>
<text x="150.0" y="649.70" font-size="23" text-anchor="end">0.5</text>
<text x="150.0" y="568.70" font-size="23" text-anchor="end">1</text>
<text x="150.0" y="486.70" font-size="23" text-anchor="end">1.5</text>
<text x="150.0" y="405.70" font-size="23" text-anchor="end">2</text>
<text x="150.0" y="323.70" font-size="23" text-anchor="end">2.5</text>
<text x="150.0" y="242.70" font-size="23" text-anchor="end">3</text>
<text x="150.0" y="160.70" font-size="23" text-anchor="end">3.5</text>
<text x="150.0" y="79.70" font-size="23" text-anchor="end">4</text>
<text x="156.3" y="59.2" font-size="23">x 10<tspan font-size="14" dy="-17.8" dx="1">4</tspan></text>
<text x="619.5" y="869" font-size="23" text-anchor="middle" textLength="86" lengthAdjust="spacingAndGlyphs">Time [s]</text>
<text transform="translate(96.3 438.9) rotate(-90)" font-size="23" text-anchor="middle" textLength="168.5" lengthAdjust="spacingAndGlyphs">Intensity [ADU]</text>
<rect x="932.5" y="79.5" width="145.0" height="304.0" fill="#fff" stroke="#000" stroke-width="1" shape-rendering="crispEdges"/>
<path d="M944 101H1008" stroke="#0404d0" stroke-width="4" fill="none" shape-rendering="crispEdges"/>
<text x="1014" y="113.6" font-size="23.3" textLength="54.5" lengthAdjust="spacingAndGlyphs">Bin 1</text>
<path d="M944 138H1008" stroke="#0a7cf4" stroke-width="4" fill="none" shape-rendering="crispEdges"/>
<text x="1014" y="150.6" font-size="23.3" textLength="56.5" lengthAdjust="spacingAndGlyphs">Bin 2</text>
<path d="M944 175H1008" stroke="#1ee6e6" stroke-width="4" fill="none" shape-rendering="crispEdges"/>
<text x="1014" y="187.6" font-size="23.3" textLength="56.5" lengthAdjust="spacingAndGlyphs">Bin 3</text>
<path d="M944 212H1008" stroke="#80fa80" stroke-width="4" fill="none" shape-rendering="crispEdges"/>
<text x="1014" y="224.6" font-size="23.3" textLength="56.5" lengthAdjust="spacingAndGlyphs">Bin 4</text>
<path d="M944 249H1008" stroke="#fafa28" stroke-width="4" fill="none" shape-rendering="crispEdges"/>
<text x="1014" y="261.6" font-size="23.3" textLength="56.5" lengthAdjust="spacingAndGlyphs">Bin 5</text>
<path d="M944 286H1008" stroke="#fa8208" stroke-width="4" fill="none" shape-rendering="crispEdges"/>
<text x="1014" y="298.6" font-size="23.3" textLength="56.5" lengthAdjust="spacingAndGlyphs">Bin 6</text>
<path d="M944 323H1008" stroke="#e41010" stroke-width="4" fill="none" shape-rendering="crispEdges"/>
<text x="1014" y="335.6" font-size="23.3" textLength="56.5" lengthAdjust="spacingAndGlyphs">Bin 7</text>
<path d="M944 360H1008" stroke="#800000" stroke-width="4" fill="none" shape-rendering="crispEdges"/>
<text x="1014" y="372.6" font-size="23.3" textLength="56.5" lengthAdjust="spacingAndGlyphs">Bin 8</text>
</svg></body></html>
